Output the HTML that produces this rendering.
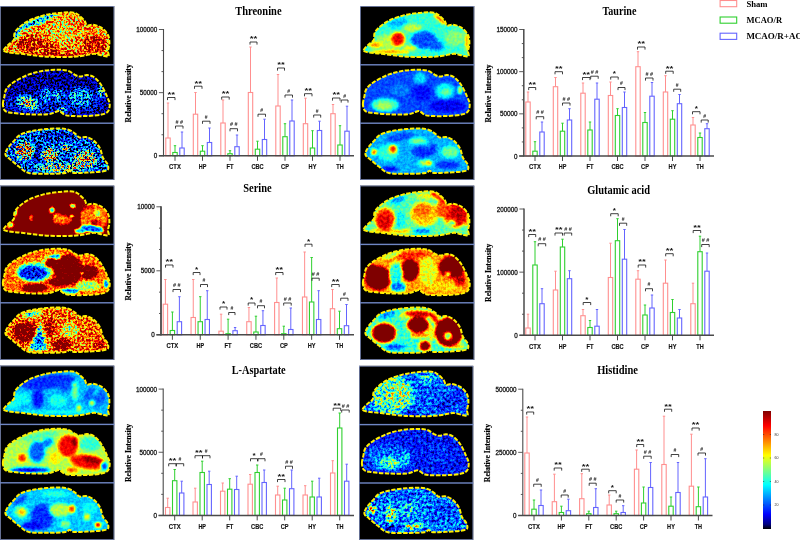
<!DOCTYPE html><html><head><meta charset="utf-8"><title>Figure</title><style>html,body{margin:0;padding:0;background:#fff}body{width:800px;height:540px;overflow:hidden;font-family:"Liberation Sans",sans-serif}svg{display:block;will-change:transform;transform:translateZ(0)}</style></head><body>
<svg width="800" height="540" viewBox="0 0 800 540">
<defs>
<path id="oA" d="M3.6 44.2C3.6 42.87 7 40.1 8.7 38.4C10.4 36.7 12.83 35.82 13.8 34C14.77 32.18 13.67 29.55 14.5 27.5C15.33 25.45 16.38 23.87 18.8 21.7C21.22 19.53 24.88 16.55 29 14.5C33.12 12.45 38.67 10.65 43.5 9.4C48.33 8.15 53.17 7.48 58 7C62.83 6.52 69 6.1 72.5 6.5C76 6.9 76.95 7.95 79 9.4C81.05 10.85 83.47 13.5 84.8 15.2C86.13 16.9 85.67 19 87 19.6C88.33 20.2 90.4 18.45 92.8 18.8C95.2 19.15 98.87 20 101.4 21.7C103.93 23.4 106.67 26.33 108 29C109.33 31.67 109.4 35.03 109.4 37.7C109.4 40.37 108.12 42.95 108 45C107.88 47.05 109.32 49.17 108.7 50C108.08 50.83 106.72 50.37 104.3 50C101.88 49.63 98.05 47.8 94.2 47.8C90.35 47.8 86.03 49.47 81.2 50C76.37 50.53 71.48 50.93 65.2 51C58.92 51.07 50.75 50.93 43.5 50.4C36.25 49.87 27.5 48.47 21.7 47.8C15.9 47.13 11.72 47 8.7 46.4C5.68 45.8 3.6 45.53 3.6 44.2Z"/>
<clipPath id="cA"><use href="#oA"/></clipPath>
<path id="oB" d="M2.9 39.1C2.78 36.8 3.7 34.43 4.3 31.9C4.9 29.37 4.8 26.43 6.5 23.9C8.2 21.37 10.75 19.12 14.5 16.7C18.25 14.28 24.17 11.22 29 9.4C33.83 7.58 38.67 6.57 43.5 5.8C48.33 5.03 53.9 4.8 58 4.8C62.1 4.8 65.2 4.92 68.1 5.8C71 6.68 73.35 9.13 75.4 10.1C77.45 11.07 78.47 11.6 80.4 11.6C82.33 11.6 84.7 9.98 87 10.1C89.3 10.22 91.8 10.6 94.2 12.3C96.6 14 99.23 17.03 101.4 20.3C103.57 23.57 105.82 28.77 107.2 31.9C108.58 35.03 109.57 36.68 109.7 39.1C109.83 41.52 109.38 44.65 108 46.4C106.62 48.15 104.9 48.83 101.4 49.6C97.9 50.37 91.82 50.77 87 51C82.18 51.23 76.13 51.17 72.5 51C68.87 50.83 67.38 50.82 65.2 50C63.02 49.18 61.1 46.58 59.4 46.1C57.7 45.62 56.93 46.57 55 47.1C53.07 47.63 52.13 48.93 47.8 49.3C43.47 49.67 35.03 49.55 29 49.3C22.97 49.05 15.6 48.4 11.6 47.8C7.6 47.2 6.45 47.15 5 45.7C3.55 44.25 3.02 41.4 2.9 39.1Z"/>
<clipPath id="cB"><use href="#oB"/></clipPath>
<path id="oC" d="M5.8 29C6.28 27.55 7.25 25.83 8.7 23.9C10.15 21.97 12.57 19.45 14.5 17.4C16.43 15.35 17.4 13.17 20.3 11.6C23.2 10.03 27.55 8.92 31.9 8C36.25 7.08 41.57 6.52 46.4 6.1C51.23 5.68 57.03 5.32 60.9 5.5C64.77 5.68 67.18 6.3 69.6 7.2C72.02 8.1 73.72 9.68 75.4 10.9C77.08 12.12 77.77 13.95 79.7 14.5C81.63 15.05 84.58 13.6 87 14.2C89.42 14.8 92.03 16.23 94.2 18.1C96.37 19.97 98.55 22.62 100 25.4C101.45 28.18 101.7 32.27 102.9 34.8C104.1 37.33 106.35 38.67 107.2 40.6C108.05 42.53 108.97 45.07 108 46.4C107.03 47.73 104.9 48.07 101.4 48.6C97.9 49.13 91.58 49.37 87 49.6C82.42 49.83 76.8 50.3 73.9 50C71 49.7 71.05 47.8 69.6 47.8C68.15 47.8 68.35 49.52 65.2 50C62.05 50.48 56.73 50.7 50.7 50.7C44.67 50.7 34.32 51.2 29 50C23.68 48.8 21.95 45.8 18.8 43.5C15.65 41.2 12.27 38.02 10.1 36.2C7.93 34.38 6.52 33.8 5.8 32.6C5.08 31.4 5.32 30.45 5.8 29Z"/>
<clipPath id="cC"><use href="#oC"/></clipPath>
<filter id="f0" filterUnits="userSpaceOnUse" x="0" y="0" width="114" height="58" color-interpolation-filters="sRGB">
<feGaussianBlur in="SourceGraphic" stdDeviation="1.5" result="b"/>
<feTurbulence type="fractalNoise" baseFrequency="0.45" numOctaves="2" seed="3" result="t"/>
<feColorMatrix in="t" type="matrix" values="2.6 0 0 0 -0.68 2.6 0 0 0 -0.68 2.6 0 0 0 -0.68 0 0 0 0 1" result="n"/>
<feComposite in="b" in2="n" operator="arithmetic" k1="0" k2="1" k3="0.5" k4="-0.25" result="m"/>
<feComponentTransfer><feFuncR type="table" tableValues="0 0 0 0 0 0 0 .25 .5 .75 1 1 1 1 1 .75 .5"/><feFuncG type="table" tableValues="0 0 0 .25 .5 .75 1 1 1 1 1 .75 .5 .25 0 0 0"/><feFuncB type="table" tableValues="0 .6 1 1 1 1 1 .75 .5 .25 0 0 0 0 0 0 0"/></feComponentTransfer>
<feGaussianBlur stdDeviation="0.6"/>
</filter>
<filter id="f1" filterUnits="userSpaceOnUse" x="0" y="0" width="114" height="58" color-interpolation-filters="sRGB">
<feGaussianBlur in="SourceGraphic" stdDeviation="2" result="b"/>
<feTurbulence type="fractalNoise" baseFrequency="0.47" numOctaves="2" seed="4" result="t"/>
<feColorMatrix in="t" type="matrix" values="3 0 0 0 -1 3 0 0 0 -1 3 0 0 0 -1 0 0 0 0 1" result="n"/>
<feComposite in="b" in2="n" operator="arithmetic" k1="1.6" k2="0.2" k3="0.1" k4="-0.05" result="m"/>
<feComponentTransfer><feFuncR type="table" tableValues="0 0 0 0 0 0 0 .25 .5 .75 1 1 1 1 1 .75 .5"/><feFuncG type="table" tableValues="0 0 0 .25 .5 .75 1 1 1 1 1 .75 .5 .25 0 0 0"/><feFuncB type="table" tableValues="0 .6 1 1 1 1 1 .75 .5 .25 0 0 0 0 0 0 0"/></feComponentTransfer>
<feGaussianBlur stdDeviation="0.75"/>
</filter>
<filter id="f2" filterUnits="userSpaceOnUse" x="0" y="0" width="114" height="58" color-interpolation-filters="sRGB">
<feGaussianBlur in="SourceGraphic" stdDeviation="1.8" result="b"/>
<feTurbulence type="fractalNoise" baseFrequency="0.47" numOctaves="2" seed="5" result="t"/>
<feColorMatrix in="t" type="matrix" values="3 0 0 0 -1 3 0 0 0 -1 3 0 0 0 -1 0 0 0 0 1" result="n"/>
<feComposite in="b" in2="n" operator="arithmetic" k1="1.5" k2="0.25" k3="0.18" k4="-0.09" result="m"/>
<feComponentTransfer><feFuncR type="table" tableValues="0 0 0 0 0 0 0 .25 .5 .75 1 1 1 1 1 .75 .5"/><feFuncG type="table" tableValues="0 0 0 .25 .5 .75 1 1 1 1 1 .75 .5 .25 0 0 0"/><feFuncB type="table" tableValues="0 .6 1 1 1 1 1 .75 .5 .25 0 0 0 0 0 0 0"/></feComponentTransfer>
<feGaussianBlur stdDeviation="0.75"/>
</filter>
<filter id="f3" filterUnits="userSpaceOnUse" x="0" y="0" width="114" height="58" color-interpolation-filters="sRGB">
<feGaussianBlur in="SourceGraphic" stdDeviation="0.9" result="b"/>
<feTurbulence type="fractalNoise" baseFrequency="0.37" numOctaves="3" seed="6" result="t"/>
<feColorMatrix in="t" type="matrix" values="2.2 0 0 0 -0.6 2.2 0 0 0 -0.6 2.2 0 0 0 -0.6 0 0 0 0 1" result="n"/>
<feComposite in="b" in2="n" operator="arithmetic" k1="0" k2="1" k3="0.2" k4="0.02" result="m"/>
<feComponentTransfer><feFuncR type="table" tableValues="0 0 0 0 0 0 0 .25 .5 .75 1 1 1 1 1 .75 .5"/><feFuncG type="table" tableValues="0 0 0 .25 .5 .75 1 1 1 1 1 .75 .5 .25 0 0 0"/><feFuncB type="table" tableValues="0 .6 1 1 1 1 1 .75 .5 .25 0 0 0 0 0 0 0"/></feComponentTransfer>
<feGaussianBlur stdDeviation="0.55"/>
</filter>
<filter id="f4" filterUnits="userSpaceOnUse" x="0" y="0" width="114" height="58" color-interpolation-filters="sRGB">
<feGaussianBlur in="SourceGraphic" stdDeviation="1.3" result="b"/>
<feTurbulence type="fractalNoise" baseFrequency="0.42" numOctaves="3" seed="7" result="t"/>
<feColorMatrix in="t" type="matrix" values="2.2 0 0 0 -0.6 2.2 0 0 0 -0.6 2.2 0 0 0 -0.6 0 0 0 0 1" result="n"/>
<feComposite in="b" in2="n" operator="arithmetic" k1="0" k2="1" k3="0.26" k4="-0.03" result="m"/>
<feComponentTransfer><feFuncR type="table" tableValues="0 0 0 0 0 0 0 .25 .5 .75 1 1 1 1 1 .75 .5"/><feFuncG type="table" tableValues="0 0 0 .25 .5 .75 1 1 1 1 1 .75 .5 .25 0 0 0"/><feFuncB type="table" tableValues="0 .6 1 1 1 1 1 .75 .5 .25 0 0 0 0 0 0 0"/></feComponentTransfer>
<feGaussianBlur stdDeviation="0.55"/>
</filter>
<filter id="f5" filterUnits="userSpaceOnUse" x="0" y="0" width="114" height="58" color-interpolation-filters="sRGB">
<feGaussianBlur in="SourceGraphic" stdDeviation="1.5" result="b"/>
<feTurbulence type="fractalNoise" baseFrequency="0.45" numOctaves="2" seed="8" result="t"/>
<feColorMatrix in="t" type="matrix" values="2.6 0 0 0 -0.65 2.6 0 0 0 -0.65 2.6 0 0 0 -0.65 0 0 0 0 1" result="n"/>
<feComposite in="b" in2="n" operator="arithmetic" k1="0" k2="1" k3="0.45" k4="-0.18" result="m"/>
<feComponentTransfer><feFuncR type="table" tableValues="0 0 0 0 0 0 0 .25 .5 .75 1 1 1 1 1 .75 .5"/><feFuncG type="table" tableValues="0 0 0 .25 .5 .75 1 1 1 1 1 .75 .5 .25 0 0 0"/><feFuncB type="table" tableValues="0 .6 1 1 1 1 1 .75 .5 .25 0 0 0 0 0 0 0"/></feComponentTransfer>
<feGaussianBlur stdDeviation="0.6"/>
</filter>
<filter id="f6" filterUnits="userSpaceOnUse" x="0" y="0" width="114" height="58" color-interpolation-filters="sRGB">
<feGaussianBlur in="SourceGraphic" stdDeviation="1.6" result="b"/>
<feTurbulence type="fractalNoise" baseFrequency="0.37" numOctaves="3" seed="9" result="t"/>
<feColorMatrix in="t" type="matrix" values="2.2 0 0 0 -0.6 2.2 0 0 0 -0.6 2.2 0 0 0 -0.6 0 0 0 0 1" result="n"/>
<feComposite in="b" in2="n" operator="arithmetic" k1="0" k2="1" k3="0.08" k4="-0.04" result="m"/>
<feComponentTransfer><feFuncR type="table" tableValues="0 0 0 0 0 0 0 .25 .5 .75 1 1 1 1 1 .75 .5"/><feFuncG type="table" tableValues="0 0 0 .25 .5 .75 1 1 1 1 1 .75 .5 .25 0 0 0"/><feFuncB type="table" tableValues="0 .6 1 1 1 1 1 .75 .5 .25 0 0 0 0 0 0 0"/></feComponentTransfer>
<feGaussianBlur stdDeviation="0.55"/>
</filter>
<filter id="f7" filterUnits="userSpaceOnUse" x="0" y="0" width="114" height="58" color-interpolation-filters="sRGB">
<feGaussianBlur in="SourceGraphic" stdDeviation="1.5" result="b"/>
<feTurbulence type="fractalNoise" baseFrequency="0.37" numOctaves="3" seed="10" result="t"/>
<feColorMatrix in="t" type="matrix" values="2.2 0 0 0 -0.6 2.2 0 0 0 -0.6 2.2 0 0 0 -0.6 0 0 0 0 1" result="n"/>
<feComposite in="b" in2="n" operator="arithmetic" k1="0" k2="1" k3="0.08" k4="-0.04" result="m"/>
<feComponentTransfer><feFuncR type="table" tableValues="0 0 0 0 0 0 0 .25 .5 .75 1 1 1 1 1 .75 .5"/><feFuncG type="table" tableValues="0 0 0 .25 .5 .75 1 1 1 1 1 .75 .5 .25 0 0 0"/><feFuncB type="table" tableValues="0 .6 1 1 1 1 1 .75 .5 .25 0 0 0 0 0 0 0"/></feComponentTransfer>
<feGaussianBlur stdDeviation="0.55"/>
</filter>
<filter id="f8" filterUnits="userSpaceOnUse" x="0" y="0" width="114" height="58" color-interpolation-filters="sRGB">
<feGaussianBlur in="SourceGraphic" stdDeviation="1.5" result="b"/>
<feTurbulence type="fractalNoise" baseFrequency="0.37" numOctaves="3" seed="11" result="t"/>
<feColorMatrix in="t" type="matrix" values="2.2 0 0 0 -0.6 2.2 0 0 0 -0.6 2.2 0 0 0 -0.6 0 0 0 0 1" result="n"/>
<feComposite in="b" in2="n" operator="arithmetic" k1="0" k2="1" k3="0.08" k4="-0.04" result="m"/>
<feComponentTransfer><feFuncR type="table" tableValues="0 0 0 0 0 0 0 .25 .5 .75 1 1 1 1 1 .75 .5"/><feFuncG type="table" tableValues="0 0 0 .25 .5 .75 1 1 1 1 1 .75 .5 .25 0 0 0"/><feFuncB type="table" tableValues="0 .6 1 1 1 1 1 .75 .5 .25 0 0 0 0 0 0 0"/></feComponentTransfer>
<feGaussianBlur stdDeviation="0.55"/>
</filter>
<filter id="f9" filterUnits="userSpaceOnUse" x="0" y="0" width="114" height="58" color-interpolation-filters="sRGB">
<feGaussianBlur in="SourceGraphic" stdDeviation="1.5" result="b"/>
<feTurbulence type="fractalNoise" baseFrequency="0.37" numOctaves="3" seed="12" result="t"/>
<feColorMatrix in="t" type="matrix" values="2.2 0 0 0 -0.6 2.2 0 0 0 -0.6 2.2 0 0 0 -0.6 0 0 0 0 1" result="n"/>
<feComposite in="b" in2="n" operator="arithmetic" k1="0" k2="1" k3="0.08" k4="-0.04" result="m"/>
<feComponentTransfer><feFuncR type="table" tableValues="0 0 0 0 0 0 0 .25 .5 .75 1 1 1 1 1 .75 .5"/><feFuncG type="table" tableValues="0 0 0 .25 .5 .75 1 1 1 1 1 .75 .5 .25 0 0 0"/><feFuncB type="table" tableValues="0 .6 1 1 1 1 1 .75 .5 .25 0 0 0 0 0 0 0"/></feComponentTransfer>
<feGaussianBlur stdDeviation="0.55"/>
</filter>
<filter id="f10" filterUnits="userSpaceOnUse" x="0" y="0" width="114" height="58" color-interpolation-filters="sRGB">
<feGaussianBlur in="SourceGraphic" stdDeviation="1.6" result="b"/>
<feTurbulence type="fractalNoise" baseFrequency="0.37" numOctaves="3" seed="13" result="t"/>
<feColorMatrix in="t" type="matrix" values="2.2 0 0 0 -0.6 2.2 0 0 0 -0.6 2.2 0 0 0 -0.6 0 0 0 0 1" result="n"/>
<feComposite in="b" in2="n" operator="arithmetic" k1="0" k2="1" k3="0.07" k4="-0.04" result="m"/>
<feComponentTransfer><feFuncR type="table" tableValues="0 0 0 0 0 0 0 .25 .5 .75 1 1 1 1 1 .75 .5"/><feFuncG type="table" tableValues="0 0 0 .25 .5 .75 1 1 1 1 1 .75 .5 .25 0 0 0"/><feFuncB type="table" tableValues="0 .6 1 1 1 1 1 .75 .5 .25 0 0 0 0 0 0 0"/></feComponentTransfer>
<feGaussianBlur stdDeviation="0.55"/>
</filter>
<filter id="f11" filterUnits="userSpaceOnUse" x="0" y="0" width="114" height="58" color-interpolation-filters="sRGB">
<feGaussianBlur in="SourceGraphic" stdDeviation="1.5" result="b"/>
<feTurbulence type="fractalNoise" baseFrequency="0.37" numOctaves="3" seed="14" result="t"/>
<feColorMatrix in="t" type="matrix" values="2.2 0 0 0 -0.6 2.2 0 0 0 -0.6 2.2 0 0 0 -0.6 0 0 0 0 1" result="n"/>
<feComposite in="b" in2="n" operator="arithmetic" k1="0" k2="1" k3="0.08" k4="-0.04" result="m"/>
<feComponentTransfer><feFuncR type="table" tableValues="0 0 0 0 0 0 0 .25 .5 .75 1 1 1 1 1 .75 .5"/><feFuncG type="table" tableValues="0 0 0 .25 .5 .75 1 1 1 1 1 .75 .5 .25 0 0 0"/><feFuncB type="table" tableValues="0 .6 1 1 1 1 1 .75 .5 .25 0 0 0 0 0 0 0"/></feComponentTransfer>
<feGaussianBlur stdDeviation="0.55"/>
</filter>
<filter id="f12" filterUnits="userSpaceOnUse" x="0" y="0" width="114" height="58" color-interpolation-filters="sRGB">
<feGaussianBlur in="SourceGraphic" stdDeviation="1.5" result="b"/>
<feTurbulence type="fractalNoise" baseFrequency="0.37" numOctaves="3" seed="15" result="t"/>
<feColorMatrix in="t" type="matrix" values="2.2 0 0 0 -0.6 2.2 0 0 0 -0.6 2.2 0 0 0 -0.6 0 0 0 0 1" result="n"/>
<feComposite in="b" in2="n" operator="arithmetic" k1="0" k2="1" k3="0.12" k4="-0.06" result="m"/>
<feComponentTransfer><feFuncR type="table" tableValues="0 0 0 0 0 0 0 .25 .5 .75 1 1 1 1 1 .75 .5"/><feFuncG type="table" tableValues="0 0 0 .25 .5 .75 1 1 1 1 1 .75 .5 .25 0 0 0"/><feFuncB type="table" tableValues="0 .6 1 1 1 1 1 .75 .5 .25 0 0 0 0 0 0 0"/></feComponentTransfer>
<feGaussianBlur stdDeviation="0.55"/>
</filter>
<filter id="f13" filterUnits="userSpaceOnUse" x="0" y="0" width="114" height="58" color-interpolation-filters="sRGB">
<feGaussianBlur in="SourceGraphic" stdDeviation="1.4" result="b"/>
<feTurbulence type="fractalNoise" baseFrequency="0.37" numOctaves="3" seed="16" result="t"/>
<feColorMatrix in="t" type="matrix" values="2.2 0 0 0 -0.6 2.2 0 0 0 -0.6 2.2 0 0 0 -0.6 0 0 0 0 1" result="n"/>
<feComposite in="b" in2="n" operator="arithmetic" k1="0" k2="1" k3="0.14" k4="0.01" result="m"/>
<feComponentTransfer><feFuncR type="table" tableValues="0 0 0 0 0 0 0 .25 .5 .75 1 1 1 1 1 .75 .5"/><feFuncG type="table" tableValues="0 0 0 .25 .5 .75 1 1 1 1 1 .75 .5 .25 0 0 0"/><feFuncB type="table" tableValues="0 .6 1 1 1 1 1 .75 .5 .25 0 0 0 0 0 0 0"/></feComponentTransfer>
<feGaussianBlur stdDeviation="0.55"/>
</filter>
<filter id="f14" filterUnits="userSpaceOnUse" x="0" y="0" width="114" height="58" color-interpolation-filters="sRGB">
<feGaussianBlur in="SourceGraphic" stdDeviation="1.4" result="b"/>
<feTurbulence type="fractalNoise" baseFrequency="0.37" numOctaves="3" seed="17" result="t"/>
<feColorMatrix in="t" type="matrix" values="2.2 0 0 0 -0.6 2.2 0 0 0 -0.6 2.2 0 0 0 -0.6 0 0 0 0 1" result="n"/>
<feComposite in="b" in2="n" operator="arithmetic" k1="0" k2="1" k3="0.14" k4="0.01" result="m"/>
<feComponentTransfer><feFuncR type="table" tableValues="0 0 0 0 0 0 0 .25 .5 .75 1 1 1 1 1 .75 .5"/><feFuncG type="table" tableValues="0 0 0 .25 .5 .75 1 1 1 1 1 .75 .5 .25 0 0 0"/><feFuncB type="table" tableValues="0 .6 1 1 1 1 1 .75 .5 .25 0 0 0 0 0 0 0"/></feComponentTransfer>
<feGaussianBlur stdDeviation="0.55"/>
</filter>
<filter id="f15" filterUnits="userSpaceOnUse" x="0" y="0" width="114" height="58" color-interpolation-filters="sRGB">
<feGaussianBlur in="SourceGraphic" stdDeviation="2" result="b"/>
<feTurbulence type="fractalNoise" baseFrequency="0.37" numOctaves="3" seed="18" result="t"/>
<feColorMatrix in="t" type="matrix" values="2.2 0 0 0 -0.6 2.2 0 0 0 -0.6 2.2 0 0 0 -0.6 0 0 0 0 1" result="n"/>
<feComposite in="b" in2="n" operator="arithmetic" k1="0.8" k2="0.6" k3="0.12" k4="-0.06" result="m"/>
<feComponentTransfer><feFuncR type="table" tableValues="0 0 0 0 0 0 0 .25 .5 .75 1 1 1 1 1 .75 .5"/><feFuncG type="table" tableValues="0 0 0 .25 .5 .75 1 1 1 1 1 .75 .5 .25 0 0 0"/><feFuncB type="table" tableValues="0 .6 1 1 1 1 1 .75 .5 .25 0 0 0 0 0 0 0"/></feComponentTransfer>
<feGaussianBlur stdDeviation="0.55"/>
</filter>
<filter id="f16" filterUnits="userSpaceOnUse" x="0" y="0" width="114" height="58" color-interpolation-filters="sRGB">
<feGaussianBlur in="SourceGraphic" stdDeviation="2" result="b"/>
<feTurbulence type="fractalNoise" baseFrequency="0.37" numOctaves="3" seed="19" result="t"/>
<feColorMatrix in="t" type="matrix" values="2.2 0 0 0 -0.6 2.2 0 0 0 -0.6 2.2 0 0 0 -0.6 0 0 0 0 1" result="n"/>
<feComposite in="b" in2="n" operator="arithmetic" k1="0.9" k2="0.55" k3="0.08" k4="-0.04" result="m"/>
<feComponentTransfer><feFuncR type="table" tableValues="0 0 0 0 0 0 0 .25 .5 .75 1 1 1 1 1 .75 .5"/><feFuncG type="table" tableValues="0 0 0 .25 .5 .75 1 1 1 1 1 .75 .5 .25 0 0 0"/><feFuncB type="table" tableValues="0 .6 1 1 1 1 1 .75 .5 .25 0 0 0 0 0 0 0"/></feComponentTransfer>
<feGaussianBlur stdDeviation="0.55"/>
</filter>
<filter id="f17" filterUnits="userSpaceOnUse" x="0" y="0" width="114" height="58" color-interpolation-filters="sRGB">
<feGaussianBlur in="SourceGraphic" stdDeviation="1.8" result="b"/>
<feTurbulence type="fractalNoise" baseFrequency="0.37" numOctaves="3" seed="20" result="t"/>
<feColorMatrix in="t" type="matrix" values="2.2 0 0 0 -0.6 2.2 0 0 0 -0.6 2.2 0 0 0 -0.6 0 0 0 0 1" result="n"/>
<feComposite in="b" in2="n" operator="arithmetic" k1="1" k2="0.5" k3="0.12" k4="-0.06" result="m"/>
<feComponentTransfer><feFuncR type="table" tableValues="0 0 0 0 0 0 0 .25 .5 .75 1 1 1 1 1 .75 .5"/><feFuncG type="table" tableValues="0 0 0 .25 .5 .75 1 1 1 1 1 .75 .5 .25 0 0 0"/><feFuncB type="table" tableValues="0 .6 1 1 1 1 1 .75 .5 .25 0 0 0 0 0 0 0"/></feComponentTransfer>
<feGaussianBlur stdDeviation="0.55"/>
</filter>
<linearGradient id="cb" x1="0" y1="1" x2="0" y2="0"><stop offset="0" stop-color="#000"/><stop offset=".04" stop-color="#000080"/><stop offset=".125" stop-color="#00f"/><stop offset=".375" stop-color="#0ff"/><stop offset=".5" stop-color="#80ff80"/><stop offset=".625" stop-color="#ff0"/><stop offset=".875" stop-color="#f00"/><stop offset="1" stop-color="#800000"/></linearGradient>
</defs>
<rect x="0" y="6" width="114.3" height="174" fill="#000"/>
<rect x="0.4" y="6.4" width="113.5" height="173.2" fill="none" stroke="#8f9fd2" stroke-width="0.7"/>
<rect x="0" y="64.1" width="114.3" height="1.4" fill="#6f86c4"/>
<rect x="0" y="122.5" width="114.3" height="1.4" fill="#6f86c4"/>
<rect x="0" y="185.6" width="114.3" height="174.4" fill="#000"/>
<rect x="0.4" y="186" width="113.5" height="173.6" fill="none" stroke="#8f9fd2" stroke-width="0.7"/>
<rect x="0" y="243.7" width="114.3" height="1.4" fill="#6f86c4"/>
<rect x="0" y="302.1" width="114.3" height="1.4" fill="#6f86c4"/>
<rect x="0" y="365.6" width="114.3" height="174.4" fill="#000"/>
<rect x="0.4" y="366" width="113.5" height="173.6" fill="none" stroke="#8f9fd2" stroke-width="0.7"/>
<rect x="0" y="423.7" width="114.3" height="1.4" fill="#6f86c4"/>
<rect x="0" y="482.1" width="114.3" height="1.4" fill="#6f86c4"/>
<rect x="360" y="6" width="114.3" height="174" fill="#000"/>
<rect x="360.4" y="6.4" width="113.5" height="173.2" fill="none" stroke="#8f9fd2" stroke-width="0.7"/>
<rect x="360" y="64.1" width="114.3" height="1.4" fill="#6f86c4"/>
<rect x="360" y="122.5" width="114.3" height="1.4" fill="#6f86c4"/>
<rect x="360" y="185.6" width="114.3" height="174.4" fill="#000"/>
<rect x="360.4" y="186" width="113.5" height="173.6" fill="none" stroke="#8f9fd2" stroke-width="0.7"/>
<rect x="360" y="243.7" width="114.3" height="1.4" fill="#6f86c4"/>
<rect x="360" y="302.1" width="114.3" height="1.4" fill="#6f86c4"/>
<rect x="359" y="365.8" width="114.3" height="174.2" fill="#000"/>
<rect x="359.4" y="366.2" width="113.5" height="173.4" fill="none" stroke="#8f9fd2" stroke-width="0.7"/>
<rect x="359" y="423.9" width="114.3" height="1.4" fill="#6f86c4"/>
<rect x="359" y="482.3" width="114.3" height="1.4" fill="#6f86c4"/>
<g transform="translate(0 6)">
<g clip-path="url(#cA)"><g filter="url(#f0)">
<rect x="0" y="0" width="114" height="58" fill="#adadad"/>
<ellipse cx="35" cy="16" rx="22" ry="3" fill="#333333" transform="rotate(-22 35 16)"/>
<ellipse cx="17" cy="27" rx="3" ry="7" fill="#333333" transform="rotate(25 17 27)"/>
<ellipse cx="62" cy="25" rx="12" ry="14" fill="#999999"/>
<ellipse cx="30" cy="38" rx="14" ry="8" fill="#d9d9d9"/>
<ellipse cx="50" cy="42" rx="8" ry="6" fill="#d9d9d9"/>
<ellipse cx="95" cy="38" rx="12" ry="9" fill="#d9d9d9"/>
<ellipse cx="60" cy="49" rx="40" ry="2" fill="#ebebeb"/>
</g></g>
<use href="#oA" fill="none" stroke="#fff000" stroke-width="2" stroke-dasharray="4.4 1.5"/>
</g>
<g transform="translate(0 65)">
<g clip-path="url(#cB)"><g filter="url(#f1)">
<rect x="0" y="0" width="114" height="58" fill="#0f0f0f"/>
<ellipse cx="55" cy="38" rx="50" ry="12" fill="#1c1c1c"/>
<ellipse cx="28" cy="38" rx="11" ry="6" fill="#666666" transform="rotate(20 28 38)"/>
<ellipse cx="27" cy="38" rx="5" ry="3" fill="#a8a8a8" transform="rotate(20 27 38)"/>
<ellipse cx="46" cy="30" rx="4" ry="7" fill="#4c4c4c"/>
<ellipse cx="58" cy="30" rx="5" ry="5" fill="#4c4c4c"/>
<ellipse cx="80" cy="32" rx="13" ry="9" fill="#404040"/>
<ellipse cx="101" cy="27" rx="2" ry="5" fill="#8c8c8c"/>
<ellipse cx="62" cy="45" rx="3" ry="2" fill="#999999"/>
</g></g>
<use href="#oB" fill="none" stroke="#fff000" stroke-width="2" stroke-dasharray="4.4 1.5"/>
</g>
<g transform="translate(0 123)">
<g clip-path="url(#cC)"><g filter="url(#f2)">
<rect x="0" y="0" width="114" height="58" fill="#2b2b2b"/>
<ellipse cx="25" cy="28" rx="9" ry="9" fill="#999999"/>
<ellipse cx="38" cy="30" rx="3" ry="12" fill="#0f0f0f"/>
<ellipse cx="50" cy="32" rx="8" ry="7" fill="#949494"/>
<ellipse cx="85" cy="36" rx="11" ry="9" fill="#808080"/>
<ellipse cx="60" cy="13" rx="20" ry="5" fill="#1f1f1f"/>
<ellipse cx="60" cy="45" rx="25" ry="4" fill="#737373"/>
<ellipse cx="66" cy="25" rx="4" ry="4" fill="#737373"/>
</g></g>
<use href="#oC" fill="none" stroke="#fff000" stroke-width="2" stroke-dasharray="4.4 1.5"/>
</g>
<g transform="translate(0 185)">
<g clip-path="url(#cA)"><g filter="url(#f3)">
<rect x="0" y="0" width="114" height="58" fill="#ffffff"/>
<ellipse cx="94" cy="33" rx="14" ry="14" fill="#a3a3a3"/>
<ellipse cx="92" cy="44" rx="12" ry="3.5" fill="#141414" transform="rotate(8 92 44)"/>
<ellipse cx="80" cy="46" rx="6" ry="2.5" fill="#2e2e2e"/>
<ellipse cx="98" cy="28" rx="3" ry="3" fill="#616161"/>
<ellipse cx="96" cy="38" rx="5" ry="3" fill="#d4d4d4"/>
<ellipse cx="62" cy="35" rx="10" ry="5" fill="#a8a8a8"/>
<ellipse cx="57" cy="31" rx="4" ry="3" fill="#999999"/>
<ellipse cx="52" cy="25" rx="3" ry="3" fill="#474747"/>
<ellipse cx="73" cy="21" rx="3" ry="2" fill="#474747"/>
<ellipse cx="72" cy="31" rx="2" ry="1.5" fill="#474747"/>
<ellipse cx="31" cy="33" rx="1.5" ry="3" fill="#7a7a7a"/>
<ellipse cx="10" cy="40" rx="4" ry="3" fill="#6e6e6e"/>
<ellipse cx="15" cy="27" rx="2" ry="5" fill="#474747"/>
<ellipse cx="88" cy="22" rx="6" ry="3" fill="#c7c7c7"/>
</g></g>
<use href="#oA" fill="none" stroke="#fff000" stroke-width="2" stroke-dasharray="4.4 1.5"/>
</g>
<g transform="translate(0 244)">
<g clip-path="url(#cB)"><g filter="url(#f4)">
<rect x="0" y="0" width="114" height="58" fill="#ababab"/>
<ellipse cx="34" cy="28" rx="18" ry="10" fill="#595959"/>
<ellipse cx="33" cy="29" rx="14" ry="7" fill="#0a0a0a"/>
<ellipse cx="52" cy="15" rx="10" ry="4" fill="#474747" transform="rotate(-20 52 15)"/>
<ellipse cx="55" cy="13" rx="5" ry="2" fill="#1a1a1a" transform="rotate(-15 55 13)"/>
<ellipse cx="68" cy="26" rx="14" ry="15" fill="#ffffff"/>
<ellipse cx="52" cy="19" rx="7" ry="5" fill="#ffffff"/>
<ellipse cx="88" cy="28" rx="10" ry="7" fill="#ffffff"/>
<ellipse cx="60" cy="38" rx="12" ry="4" fill="#ffffff"/>
<ellipse cx="35" cy="44" rx="13" ry="4" fill="#ffffff"/>
<ellipse cx="88" cy="42" rx="12" ry="5" fill="#6b6b6b"/>
<ellipse cx="70" cy="47" rx="9" ry="2.5" fill="#1f1f1f"/>
<ellipse cx="106" cy="40" rx="2" ry="4" fill="#0d0d0d"/>
<ellipse cx="82" cy="29" rx="1.5" ry="1.5" fill="#4d4d4d"/>
</g></g>
<use href="#oB" fill="none" stroke="#fff000" stroke-width="2" stroke-dasharray="4.4 1.5"/>
</g>
<g transform="translate(0 302)">
<g clip-path="url(#cC)"><g filter="url(#f5)">
<rect x="0" y="0" width="114" height="58" fill="#adadad"/>
<ellipse cx="25" cy="30" rx="12" ry="10" fill="#ffffff"/>
<polygon points="40,20 48,48 28,49" fill="#474747"/>
<polygon points="40,26 44,45 33,46" fill="#1c1c1c"/>
<ellipse cx="70" cy="28" rx="9" ry="7" fill="#7a7a7a"/>
<ellipse cx="32" cy="12" rx="10" ry="3" fill="#4f4f4f" transform="rotate(-10 32 12)"/>
<ellipse cx="62" cy="43" rx="9" ry="5" fill="#ffffff"/>
<ellipse cx="50" cy="25" rx="4" ry="8" fill="#e8e8e8"/>
<ellipse cx="100" cy="42" rx="5" ry="4" fill="#dbdbdb"/>
</g></g>
<use href="#oC" fill="none" stroke="#fff000" stroke-width="2" stroke-dasharray="4.4 1.5"/>
</g>
<g transform="translate(0 365)">
<g clip-path="url(#cA)"><g filter="url(#f6)">
<rect x="0" y="0" width="114" height="58" fill="#4f4f4f"/>
<ellipse cx="48" cy="17" rx="27" ry="7" fill="#2b2b2b" transform="rotate(-8 48 17)"/>
<ellipse cx="38" cy="34" rx="6" ry="10" fill="#262626"/>
<ellipse cx="65" cy="22" rx="7" ry="5" fill="#333333"/>
<ellipse cx="22" cy="34" rx="9" ry="6" fill="#616161"/>
<ellipse cx="58" cy="36" rx="9" ry="6" fill="#666666"/>
<ellipse cx="75" cy="26" rx="3" ry="10" fill="#808080"/>
<ellipse cx="95" cy="32" rx="11" ry="10" fill="#383838"/>
<ellipse cx="92" cy="38" rx="2.5" ry="2.5" fill="#b8b8b8"/>
<ellipse cx="79" cy="43" rx="2" ry="3" fill="#b8b8b8"/>
<ellipse cx="97" cy="26" rx="1.5" ry="6" fill="#666666" transform="rotate(30 97 26)"/>
<ellipse cx="60" cy="47" rx="40" ry="1.5" fill="#6b6b6b"/>
<ellipse cx="12" cy="40" rx="6" ry="3" fill="#6b6b6b"/>
</g></g>
<use href="#oA" fill="none" stroke="#fff000" stroke-width="2" stroke-dasharray="4.4 1.5"/>
</g>
<g transform="translate(0 424)">
<g clip-path="url(#cB)"><g filter="url(#f7)">
<rect x="0" y="0" width="114" height="58" fill="#8c8c8c"/>
<ellipse cx="37" cy="28" rx="8" ry="11" fill="#383838"/>
<ellipse cx="47" cy="19" rx="7" ry="4" fill="#3d3d3d" transform="rotate(-25 47 19)"/>
<ellipse cx="68" cy="22" rx="10" ry="11" fill="#e0e0e0"/>
<ellipse cx="75" cy="18" rx="3" ry="5" fill="#ffffff"/>
<ellipse cx="88" cy="38" rx="18" ry="7" fill="#e0e0e0" transform="rotate(8 88 38)"/>
<ellipse cx="92" cy="36" rx="9" ry="3" fill="#ffffff" transform="rotate(12 92 36)"/>
<ellipse cx="22" cy="34" rx="4" ry="4" fill="#d9d9d9"/>
<ellipse cx="90" cy="20" rx="11" ry="7" fill="#6b6b6b"/>
<ellipse cx="30" cy="46" rx="20" ry="2.5" fill="#141414"/>
<ellipse cx="55" cy="34" rx="6" ry="6" fill="#a3a3a3"/>
<ellipse cx="72" cy="46" rx="6" ry="2" fill="#d9d9d9"/>
<ellipse cx="40" cy="12" rx="20" ry="3" fill="#707070" transform="rotate(-10 40 12)"/>
<ellipse cx="104" cy="42" rx="3" ry="4" fill="#262626"/>
</g></g>
<use href="#oB" fill="none" stroke="#fff000" stroke-width="2" stroke-dasharray="4.4 1.5"/>
</g>
<g transform="translate(0 482)">
<g clip-path="url(#cC)"><g filter="url(#f8)">
<rect x="0" y="0" width="114" height="58" fill="#525252"/>
<ellipse cx="42" cy="35" rx="11" ry="13" fill="#2b2b2b"/>
<ellipse cx="32" cy="44" rx="10" ry="4" fill="#1f1f1f"/>
<ellipse cx="60" cy="28" rx="11" ry="7" fill="#8c8c8c"/>
<ellipse cx="72" cy="27" rx="3" ry="4" fill="#d9d9d9"/>
<ellipse cx="21" cy="30" rx="7" ry="6" fill="#808080"/>
<ellipse cx="22" cy="30" rx="3" ry="3" fill="#b8b8b8"/>
<ellipse cx="98" cy="43" rx="3" ry="2.5" fill="#ffffff"/>
<ellipse cx="87" cy="35" rx="3" ry="3" fill="#b2b2b2"/>
<ellipse cx="55" cy="12" rx="14" ry="3" fill="#6b6b6b"/>
<ellipse cx="90" cy="26" rx="8" ry="6" fill="#616161"/>
<ellipse cx="65" cy="42" rx="5" ry="4" fill="#808080"/>
<ellipse cx="20" cy="18" rx="8" ry="3" fill="#333333" transform="rotate(-35 20 18)"/>
</g></g>
<use href="#oC" fill="none" stroke="#fff000" stroke-width="2" stroke-dasharray="4.4 1.5"/>
</g>
<g transform="translate(360 6)">
<g clip-path="url(#cA)"><g filter="url(#f9)">
<rect x="0" y="0" width="114" height="58" fill="#6b6b6b"/>
<ellipse cx="30" cy="36" rx="14" ry="8" fill="#8c8c8c"/>
<ellipse cx="38" cy="33" rx="7" ry="7" fill="#dbdbdb"/>
<ellipse cx="38" cy="33" rx="4" ry="4" fill="#e6e6e6"/>
<ellipse cx="64" cy="34" rx="13" ry="9" fill="#333333"/>
<ellipse cx="76" cy="40" rx="8" ry="5" fill="#383838"/>
<ellipse cx="52" cy="22" rx="10" ry="4" fill="#8f8f8f"/>
<ellipse cx="38" cy="17" rx="10" ry="4" fill="#4c4c4c" transform="rotate(-15 38 17)"/>
<ellipse cx="15" cy="39" rx="6" ry="3" fill="#bfbfbf"/>
<ellipse cx="80" cy="13" rx="8" ry="1.5" fill="#e6e6e6" transform="rotate(40 80 13)"/>
<ellipse cx="95" cy="32" rx="10" ry="8" fill="#808080"/>
<ellipse cx="30" cy="46" rx="20" ry="1.5" fill="#d9d9d9"/>
<ellipse cx="107" cy="36" rx="1.5" ry="10" fill="#cccccc"/>
<ellipse cx="50" cy="42" rx="8" ry="3" fill="#999999"/>
</g></g>
<use href="#oA" fill="none" stroke="#fff000" stroke-width="2" stroke-dasharray="4.4 1.5"/>
</g>
<g transform="translate(360 65)">
<g clip-path="url(#cB)"><g filter="url(#f10)">
<rect x="0" y="0" width="114" height="58" fill="#333333"/>
<ellipse cx="25" cy="40" rx="14" ry="7" fill="#707070"/>
<ellipse cx="24" cy="41" rx="8" ry="4" fill="#8c8c8c"/>
<ellipse cx="60" cy="13" rx="7" ry="6" fill="#595959"/>
<ellipse cx="85" cy="26" rx="10" ry="8" fill="#616161"/>
<ellipse cx="86" cy="27" rx="4" ry="3" fill="#808080"/>
<ellipse cx="88" cy="41" rx="18" ry="6" fill="#1f1f1f"/>
<ellipse cx="62" cy="28" rx="10" ry="8" fill="#242424"/>
<ellipse cx="100" cy="25" rx="1.5" ry="4" fill="#cccccc"/>
<ellipse cx="40" cy="25" rx="10" ry="6" fill="#404040"/>
</g></g>
<use href="#oB" fill="none" stroke="#fff000" stroke-width="2" stroke-dasharray="4.4 1.5"/>
</g>
<g transform="translate(360 123)">
<g clip-path="url(#cC)"><g filter="url(#f11)">
<rect x="0" y="0" width="114" height="58" fill="#4c4c4c"/>
<ellipse cx="28" cy="30" rx="10" ry="8" fill="#6b6b6b"/>
<ellipse cx="62" cy="29" rx="10" ry="6" fill="#2b2b2b"/>
<ellipse cx="73" cy="26" rx="3" ry="6" fill="#2b2b2b"/>
<ellipse cx="33" cy="26" rx="4.5" ry="4.5" fill="#b2b2b2"/>
<ellipse cx="33" cy="26" rx="3" ry="3" fill="#d9d9d9"/>
<ellipse cx="14" cy="29" rx="2.5" ry="3" fill="#d9d9d9"/>
<ellipse cx="58" cy="18" rx="9" ry="3" fill="#808080"/>
<ellipse cx="65" cy="40" rx="7" ry="3" fill="#8c8c8c"/>
<ellipse cx="69" cy="40" rx="2.5" ry="2.5" fill="#cccccc"/>
<ellipse cx="90" cy="29" rx="9" ry="6" fill="#7a7a7a"/>
<ellipse cx="88" cy="42" rx="12" ry="4" fill="#2b2b2b"/>
<ellipse cx="40" cy="14" rx="14" ry="4" fill="#333333" transform="rotate(-10 40 14)"/>
<ellipse cx="30" cy="46" rx="8" ry="2.5" fill="#1a1a1a"/>
</g></g>
<use href="#oC" fill="none" stroke="#fff000" stroke-width="2" stroke-dasharray="4.4 1.5"/>
</g>
<g transform="translate(360 185)">
<g clip-path="url(#cA)"><g filter="url(#f12)">
<rect x="0" y="0" width="114" height="58" fill="#757575"/>
<ellipse cx="25" cy="34" rx="10" ry="11" fill="#d6d6d6"/>
<ellipse cx="24" cy="37" rx="8" ry="7" fill="#e6e6e6"/>
<ellipse cx="40" cy="35" rx="5" ry="10" fill="#616161"/>
<ellipse cx="64" cy="29" rx="14" ry="12" fill="#adadad"/>
<ellipse cx="62" cy="25" rx="8" ry="7" fill="#c4c4c4"/>
<ellipse cx="66" cy="11" rx="12" ry="2.5" fill="#a3a3a3"/>
<ellipse cx="95" cy="30" rx="11" ry="13" fill="#dbdbdb"/>
<ellipse cx="98" cy="30" rx="7" ry="10" fill="#ededed"/>
<ellipse cx="82" cy="24" rx="6" ry="9" fill="#cccccc"/>
<ellipse cx="78" cy="12" rx="9" ry="2" fill="#ebebeb" transform="rotate(35 78 12)"/>
<ellipse cx="28" cy="46" rx="18" ry="1.2" fill="#e0e0e0" transform="rotate(3 28 46)"/>
<ellipse cx="62" cy="46" rx="9" ry="2" fill="#333333"/>
<ellipse cx="38" cy="15" rx="8" ry="3" fill="#424242" transform="rotate(-15 38 15)"/>
<ellipse cx="92" cy="38" rx="4" ry="3" fill="#737373"/>
<ellipse cx="106" cy="32" rx="1.5" ry="10" fill="#f2f2f2"/>
<ellipse cx="47" cy="46" rx="3" ry="1.5" fill="#d9d9d9"/>
</g></g>
<use href="#oA" fill="none" stroke="#fff000" stroke-width="2" stroke-dasharray="4.4 1.5"/>
</g>
<g transform="translate(360 244)">
<g clip-path="url(#cB)"><g filter="url(#f13)">
<rect x="0" y="0" width="114" height="58" fill="#a3a3a3"/>
<ellipse cx="18" cy="34" rx="13" ry="12" fill="#ffffff"/>
<ellipse cx="12" cy="28" rx="6" ry="8" fill="#ffffff"/>
<ellipse cx="50" cy="26" rx="9" ry="11" fill="#ffffff"/>
<ellipse cx="92" cy="23" rx="13" ry="11" fill="#ffffff"/>
<ellipse cx="36" cy="30" rx="7" ry="12" fill="#525252"/>
<ellipse cx="38" cy="43" rx="8" ry="5" fill="#2b2b2b"/>
<ellipse cx="68" cy="28" rx="9" ry="15" fill="#858585"/>
<ellipse cx="85" cy="43" rx="16" ry="5" fill="#949494"/>
<ellipse cx="52" cy="11" rx="18" ry="2.5" fill="#cccccc" transform="rotate(-5 52 11)"/>
<ellipse cx="32" cy="11" rx="10" ry="1.5" fill="#525252" transform="rotate(-20 32 11)"/>
<ellipse cx="88" cy="30" rx="2.5" ry="2.5" fill="#5e5e5e"/>
<ellipse cx="100" cy="36" rx="5" ry="6" fill="#dedede"/>
</g></g>
<use href="#oB" fill="none" stroke="#fff000" stroke-width="2" stroke-dasharray="4.4 1.5"/>
</g>
<g transform="translate(360 302)">
<g clip-path="url(#cC)"><g filter="url(#f14)">
<rect x="0" y="0" width="114" height="58" fill="#575757"/>
<ellipse cx="24" cy="31" rx="12" ry="10" fill="#ffffff"/>
<ellipse cx="58" cy="23" rx="11" ry="8" fill="#ffffff"/>
<ellipse cx="59" cy="12" rx="16" ry="3.5" fill="#d9d9d9" transform="rotate(3 59 12)"/>
<ellipse cx="75" cy="17" rx="3" ry="6" fill="#d1d1d1" transform="rotate(-30 75 17)"/>
<ellipse cx="89" cy="30" rx="14" ry="15" fill="#ffffff"/>
<ellipse cx="88" cy="34" rx="4" ry="4" fill="#666666"/>
<ellipse cx="59" cy="33" rx="9" ry="3" fill="#b3b3b3"/>
<ellipse cx="65" cy="44" rx="5.5" ry="5" fill="#ffffff"/>
<ellipse cx="71" cy="31" rx="4" ry="8" fill="#8a8a8a"/>
<ellipse cx="60" cy="33" rx="7" ry="3" fill="#ababab"/>
<ellipse cx="35" cy="45" rx="10" ry="3" fill="#1f1f1f"/>
<ellipse cx="28" cy="12" rx="9" ry="3" fill="#2b2b2b" transform="rotate(-25 28 12)"/>
<ellipse cx="98" cy="45" rx="7" ry="2.5" fill="#919191"/>
<ellipse cx="44" cy="14" rx="5" ry="3" fill="#858585"/>
</g></g>
<use href="#oC" fill="none" stroke="#fff000" stroke-width="2" stroke-dasharray="4.4 1.5"/>
</g>
<g transform="translate(359 365.2)">
<g clip-path="url(#cA)"><g filter="url(#f15)">
<rect x="0" y="0" width="114" height="58" fill="#363636"/>
<ellipse cx="33" cy="30" rx="22" ry="19" fill="#707070"/>
<ellipse cx="40" cy="28" rx="12" ry="12" fill="#808080"/>
<ellipse cx="68" cy="13" rx="10" ry="5" fill="#5c5c5c"/>
<ellipse cx="97" cy="33" rx="10" ry="10" fill="#2b2b2b"/>
<ellipse cx="50" cy="48" rx="8" ry="2" fill="#0f0f0f"/>
<ellipse cx="85" cy="40" rx="8" ry="5" fill="#242424"/>
</g></g>
<use href="#oA" fill="none" stroke="#fff000" stroke-width="2" stroke-dasharray="4.4 1.5"/>
</g>
<g transform="translate(359 424.2)">
<g clip-path="url(#cB)"><g filter="url(#f16)">
<rect x="0" y="0" width="114" height="58" fill="#242424"/>
<ellipse cx="30" cy="33" rx="24" ry="13" fill="#383838"/>
<ellipse cx="30" cy="39" rx="12" ry="6" fill="#6b6b6b"/>
<ellipse cx="31" cy="39" rx="5" ry="3" fill="#8c8c8c"/>
<ellipse cx="46" cy="36" rx="4" ry="7" fill="#5c5c5c"/>
<ellipse cx="80" cy="30" rx="15" ry="10" fill="#292929"/>
</g></g>
<use href="#oB" fill="none" stroke="#fff000" stroke-width="2" stroke-dasharray="4.4 1.5"/>
</g>
<g transform="translate(359 482.2)">
<g clip-path="url(#cC)"><g filter="url(#f17)">
<rect x="0" y="0" width="114" height="58" fill="#3d3d3d"/>
<ellipse cx="32" cy="32" rx="5" ry="10" fill="#808080"/>
<ellipse cx="13" cy="28" rx="4" ry="3" fill="#bfbfbf"/>
<ellipse cx="55" cy="44" rx="10" ry="3" fill="#808080"/>
<ellipse cx="85" cy="30" rx="14" ry="10" fill="#333333"/>
<ellipse cx="45" cy="12" rx="14" ry="4" fill="#333333"/>
<ellipse cx="50" cy="28" rx="10" ry="8" fill="#545454"/>
<ellipse cx="32" cy="46" rx="6" ry="2.5" fill="#141414"/>
</g></g>
<use href="#oC" fill="none" stroke="#fff000" stroke-width="2" stroke-dasharray="4.4 1.5"/>
</g>
<line x1="168" y1="103" x2="168" y2="138" stroke="#ff8f8f" stroke-width="1"/>
<line x1="166.8" y1="103" x2="169.2" y2="103" stroke="#ff8f8f" stroke-width="1"/>
<rect x="165.8" y="138" width="4.4" height="17.8" fill="#fff" stroke="#ff8f8f" stroke-width="1.1"/>
<line x1="175" y1="145.7" x2="175" y2="152.5" stroke="#2fd02f" stroke-width="1"/>
<line x1="173.8" y1="145.7" x2="176.2" y2="145.7" stroke="#2fd02f" stroke-width="1"/>
<rect x="172.8" y="152.5" width="4.4" height="3.3" fill="#fff" stroke="#2fd02f" stroke-width="1.1"/>
<line x1="182" y1="132" x2="182" y2="148" stroke="#6464ff" stroke-width="1"/>
<line x1="180.8" y1="132" x2="183.2" y2="132" stroke="#6464ff" stroke-width="1"/>
<rect x="179.8" y="148" width="4.4" height="7.8" fill="#fff" stroke="#6464ff" stroke-width="1.1"/>
<line x1="195.5" y1="92.5" x2="195.5" y2="114.2" stroke="#ff8f8f" stroke-width="1"/>
<line x1="194.3" y1="92.5" x2="196.7" y2="92.5" stroke="#ff8f8f" stroke-width="1"/>
<rect x="193.3" y="114.2" width="4.4" height="41.6" fill="#fff" stroke="#ff8f8f" stroke-width="1.1"/>
<line x1="202.5" y1="145.7" x2="202.5" y2="151.2" stroke="#2fd02f" stroke-width="1"/>
<line x1="201.3" y1="145.7" x2="203.7" y2="145.7" stroke="#2fd02f" stroke-width="1"/>
<rect x="200.3" y="151.2" width="4.4" height="4.6" fill="#fff" stroke="#2fd02f" stroke-width="1.1"/>
<line x1="209.5" y1="128" x2="209.5" y2="142.5" stroke="#6464ff" stroke-width="1"/>
<line x1="208.3" y1="128" x2="210.7" y2="128" stroke="#6464ff" stroke-width="1"/>
<rect x="207.3" y="142.5" width="4.4" height="13.3" fill="#fff" stroke="#6464ff" stroke-width="1.1"/>
<line x1="223" y1="100" x2="223" y2="123" stroke="#ff8f8f" stroke-width="1"/>
<line x1="221.8" y1="100" x2="224.2" y2="100" stroke="#ff8f8f" stroke-width="1"/>
<rect x="220.8" y="123" width="4.4" height="32.8" fill="#fff" stroke="#ff8f8f" stroke-width="1.1"/>
<line x1="230" y1="150.7" x2="230" y2="153.7" stroke="#2fd02f" stroke-width="1"/>
<line x1="228.8" y1="150.7" x2="231.2" y2="150.7" stroke="#2fd02f" stroke-width="1"/>
<rect x="227.8" y="153.7" width="4.4" height="2.1" fill="#fff" stroke="#2fd02f" stroke-width="1.1"/>
<line x1="237" y1="135" x2="237" y2="146.7" stroke="#6464ff" stroke-width="1"/>
<line x1="235.8" y1="135" x2="238.2" y2="135" stroke="#6464ff" stroke-width="1"/>
<rect x="234.8" y="146.7" width="4.4" height="9.1" fill="#fff" stroke="#6464ff" stroke-width="1.1"/>
<line x1="250.5" y1="47" x2="250.5" y2="92.5" stroke="#ff8f8f" stroke-width="1"/>
<line x1="249.3" y1="47" x2="251.7" y2="47" stroke="#ff8f8f" stroke-width="1"/>
<rect x="248.3" y="92.5" width="4.4" height="63.3" fill="#fff" stroke="#ff8f8f" stroke-width="1.1"/>
<line x1="257.5" y1="141.2" x2="257.5" y2="149.2" stroke="#2fd02f" stroke-width="1"/>
<line x1="256.3" y1="141.2" x2="258.7" y2="141.2" stroke="#2fd02f" stroke-width="1"/>
<rect x="255.3" y="149.2" width="4.4" height="6.6" fill="#fff" stroke="#2fd02f" stroke-width="1.1"/>
<line x1="264.5" y1="119.2" x2="264.5" y2="139.5" stroke="#6464ff" stroke-width="1"/>
<line x1="263.3" y1="119.2" x2="265.7" y2="119.2" stroke="#6464ff" stroke-width="1"/>
<rect x="262.3" y="139.5" width="4.4" height="16.3" fill="#fff" stroke="#6464ff" stroke-width="1.1"/>
<line x1="278" y1="74.5" x2="278" y2="106" stroke="#ff8f8f" stroke-width="1"/>
<line x1="276.8" y1="74.5" x2="279.2" y2="74.5" stroke="#ff8f8f" stroke-width="1"/>
<rect x="275.8" y="106" width="4.4" height="49.8" fill="#fff" stroke="#ff8f8f" stroke-width="1.1"/>
<line x1="285" y1="123.7" x2="285" y2="136.7" stroke="#2fd02f" stroke-width="1"/>
<line x1="283.8" y1="123.7" x2="286.2" y2="123.7" stroke="#2fd02f" stroke-width="1"/>
<rect x="282.8" y="136.7" width="4.4" height="19.1" fill="#fff" stroke="#2fd02f" stroke-width="1.1"/>
<line x1="292" y1="100" x2="292" y2="121" stroke="#6464ff" stroke-width="1"/>
<line x1="290.8" y1="100" x2="293.2" y2="100" stroke="#6464ff" stroke-width="1"/>
<rect x="289.8" y="121" width="4.4" height="34.8" fill="#fff" stroke="#6464ff" stroke-width="1.1"/>
<line x1="305.5" y1="98.2" x2="305.5" y2="123.7" stroke="#ff8f8f" stroke-width="1"/>
<line x1="304.3" y1="98.2" x2="306.7" y2="98.2" stroke="#ff8f8f" stroke-width="1"/>
<rect x="303.3" y="123.7" width="4.4" height="32.1" fill="#fff" stroke="#ff8f8f" stroke-width="1.1"/>
<line x1="312.5" y1="130.7" x2="312.5" y2="148" stroke="#2fd02f" stroke-width="1"/>
<line x1="311.3" y1="130.7" x2="313.7" y2="130.7" stroke="#2fd02f" stroke-width="1"/>
<rect x="310.3" y="148" width="4.4" height="7.8" fill="#fff" stroke="#2fd02f" stroke-width="1.1"/>
<line x1="319.5" y1="121.2" x2="319.5" y2="130.5" stroke="#6464ff" stroke-width="1"/>
<line x1="318.3" y1="121.2" x2="320.7" y2="121.2" stroke="#6464ff" stroke-width="1"/>
<rect x="317.3" y="130.5" width="4.4" height="25.3" fill="#fff" stroke="#6464ff" stroke-width="1.1"/>
<line x1="333" y1="104.5" x2="333" y2="113.7" stroke="#ff8f8f" stroke-width="1"/>
<line x1="331.8" y1="104.5" x2="334.2" y2="104.5" stroke="#ff8f8f" stroke-width="1"/>
<rect x="330.8" y="113.7" width="4.4" height="42.1" fill="#fff" stroke="#ff8f8f" stroke-width="1.1"/>
<line x1="340" y1="125.7" x2="340" y2="145" stroke="#2fd02f" stroke-width="1"/>
<line x1="338.8" y1="125.7" x2="341.2" y2="125.7" stroke="#2fd02f" stroke-width="1"/>
<rect x="337.8" y="145" width="4.4" height="10.8" fill="#fff" stroke="#2fd02f" stroke-width="1.1"/>
<line x1="347" y1="106.2" x2="347" y2="131.2" stroke="#6464ff" stroke-width="1"/>
<line x1="345.8" y1="106.2" x2="348.2" y2="106.2" stroke="#6464ff" stroke-width="1"/>
<rect x="344.8" y="131.2" width="4.4" height="24.6" fill="#fff" stroke="#6464ff" stroke-width="1.1"/>
<line x1="163.5" y1="29" x2="163.5" y2="156.4" stroke="#4a4a4a" stroke-width="1.1"/>
<line x1="158.9" y1="155.8" x2="354" y2="155.8" stroke="#4a4a4a" stroke-width="1.5"/>
<line x1="158.9" y1="29.5" x2="163.5" y2="29.5" stroke="#4a4a4a" stroke-width="0.9"/>
<text x="157.2" y="32.1" font-family="Liberation Sans" font-size="7.4" font-weight="normal" text-anchor="end" textLength="21" lengthAdjust="spacingAndGlyphs" fill="#111" stroke="#111" stroke-width="0.3">100000</text>
<line x1="161.5" y1="50.55" x2="163.5" y2="50.55" stroke="#4a4a4a" stroke-width="0.9"/>
<line x1="161.5" y1="71.6" x2="163.5" y2="71.6" stroke="#4a4a4a" stroke-width="0.9"/>
<line x1="158.9" y1="92.65" x2="163.5" y2="92.65" stroke="#4a4a4a" stroke-width="0.9"/>
<text x="157.2" y="95.25" font-family="Liberation Sans" font-size="7.4" font-weight="normal" text-anchor="end" textLength="17.5" lengthAdjust="spacingAndGlyphs" fill="#111" stroke="#111" stroke-width="0.3">50000</text>
<line x1="161.5" y1="113.7" x2="163.5" y2="113.7" stroke="#4a4a4a" stroke-width="0.9"/>
<line x1="161.5" y1="134.75" x2="163.5" y2="134.75" stroke="#4a4a4a" stroke-width="0.9"/>
<line x1="158.9" y1="155.8" x2="163.5" y2="155.8" stroke="#4a4a4a" stroke-width="0.9"/>
<text x="157.2" y="158.4" font-family="Liberation Sans" font-size="7.4" font-weight="normal" text-anchor="end" textLength="3.5" lengthAdjust="spacingAndGlyphs" fill="#111" stroke="#111" stroke-width="0.3">0</text>
<line x1="175" y1="155.8" x2="175" y2="160.8" stroke="#4a4a4a" stroke-width="1"/>
<text x="175" y="169.1" font-family="Liberation Sans" font-size="7" font-weight="bold" text-anchor="middle" textLength="11.8" lengthAdjust="spacingAndGlyphs" fill="#111" stroke="#111" stroke-width="0.15">CTX</text>
<line x1="202.5" y1="155.8" x2="202.5" y2="160.8" stroke="#4a4a4a" stroke-width="1"/>
<text x="202.5" y="169.1" font-family="Liberation Sans" font-size="7" font-weight="bold" text-anchor="middle" textLength="7.6" lengthAdjust="spacingAndGlyphs" fill="#111" stroke="#111" stroke-width="0.15">HP</text>
<line x1="230" y1="155.8" x2="230" y2="160.8" stroke="#4a4a4a" stroke-width="1"/>
<text x="230" y="169.1" font-family="Liberation Sans" font-size="7" font-weight="bold" text-anchor="middle" textLength="7" lengthAdjust="spacingAndGlyphs" fill="#111" stroke="#111" stroke-width="0.15">FT</text>
<line x1="257.5" y1="155.8" x2="257.5" y2="160.8" stroke="#4a4a4a" stroke-width="1"/>
<text x="257.5" y="169.1" font-family="Liberation Sans" font-size="7" font-weight="bold" text-anchor="middle" textLength="12.2" lengthAdjust="spacingAndGlyphs" fill="#111" stroke="#111" stroke-width="0.15">CBC</text>
<line x1="285" y1="155.8" x2="285" y2="160.8" stroke="#4a4a4a" stroke-width="1"/>
<text x="285" y="169.1" font-family="Liberation Sans" font-size="7" font-weight="bold" text-anchor="middle" textLength="7.8" lengthAdjust="spacingAndGlyphs" fill="#111" stroke="#111" stroke-width="0.15">CP</text>
<line x1="312.5" y1="155.8" x2="312.5" y2="160.8" stroke="#4a4a4a" stroke-width="1"/>
<text x="312.5" y="169.1" font-family="Liberation Sans" font-size="7" font-weight="bold" text-anchor="middle" textLength="7.8" lengthAdjust="spacingAndGlyphs" fill="#111" stroke="#111" stroke-width="0.15">HY</text>
<line x1="340" y1="155.8" x2="340" y2="160.8" stroke="#4a4a4a" stroke-width="1"/>
<text x="340" y="169.1" font-family="Liberation Sans" font-size="7" font-weight="bold" text-anchor="middle" textLength="7.4" lengthAdjust="spacingAndGlyphs" fill="#111" stroke="#111" stroke-width="0.15">TH</text>
<path d="M167.5 100.1V97.5H175V100.1" fill="none" stroke="#111" stroke-width="0.8"/>
<text x="171.25" y="96.9" font-family="Liberation Sans" font-size="8" font-weight="bold" text-anchor="middle" textLength="7.6" lengthAdjust="spacingAndGlyphs" fill="#111">**</text>
<path d="M175.5 128.6V126H183V128.6" fill="none" stroke="#111" stroke-width="0.8"/>
<text x="179.25" y="123.6" font-family="Liberation Sans" font-size="4.6" font-weight="bold" text-anchor="middle" textLength="7.6" lengthAdjust="spacingAndGlyphs" fill="#222"># #</text>
<path d="M194.5 88.8V86.2H202V88.8" fill="none" stroke="#111" stroke-width="0.8"/>
<text x="198.25" y="85.6" font-family="Liberation Sans" font-size="8" font-weight="bold" text-anchor="middle" textLength="7.6" lengthAdjust="spacingAndGlyphs" fill="#111">**</text>
<path d="M202.5 123.8V121.2H210V123.8" fill="none" stroke="#111" stroke-width="0.8"/>
<text x="206.25" y="118.8" font-family="Liberation Sans" font-size="4.6" font-weight="bold" text-anchor="middle" textLength="2.8" lengthAdjust="spacingAndGlyphs" fill="#222">#</text>
<path d="M221.7 99.6V97H229.2V99.6" fill="none" stroke="#111" stroke-width="0.8"/>
<text x="225.45" y="96.4" font-family="Liberation Sans" font-size="8" font-weight="bold" text-anchor="middle" textLength="7.6" lengthAdjust="spacingAndGlyphs" fill="#111">**</text>
<path d="M230 131.3V128.7H237.5V131.3" fill="none" stroke="#111" stroke-width="0.8"/>
<text x="233.75" y="126.3" font-family="Liberation Sans" font-size="4.6" font-weight="bold" text-anchor="middle" textLength="7.6" lengthAdjust="spacingAndGlyphs" fill="#222"># #</text>
<path d="M250 44.6V42H257V44.6" fill="none" stroke="#111" stroke-width="0.8"/>
<text x="253.5" y="41.4" font-family="Liberation Sans" font-size="8" font-weight="bold" text-anchor="middle" textLength="7.6" lengthAdjust="spacingAndGlyphs" fill="#111">**</text>
<path d="M258 116.8V114.2H265.5V116.8" fill="none" stroke="#111" stroke-width="0.8"/>
<text x="261.75" y="111.8" font-family="Liberation Sans" font-size="4.6" font-weight="bold" text-anchor="middle" textLength="2.8" lengthAdjust="spacingAndGlyphs" fill="#222">#</text>
<path d="M277.5 70.6V68H284.5V70.6" fill="none" stroke="#111" stroke-width="0.8"/>
<text x="281" y="67.4" font-family="Liberation Sans" font-size="8" font-weight="bold" text-anchor="middle" textLength="7.6" lengthAdjust="spacingAndGlyphs" fill="#111">**</text>
<path d="M285 97.6V95H292.5V97.6" fill="none" stroke="#111" stroke-width="0.8"/>
<text x="288.75" y="92.6" font-family="Liberation Sans" font-size="4.6" font-weight="bold" text-anchor="middle" textLength="2.8" lengthAdjust="spacingAndGlyphs" fill="#222">#</text>
<path d="M304.5 96.3V93.7H312V96.3" fill="none" stroke="#111" stroke-width="0.8"/>
<text x="308.25" y="93.1" font-family="Liberation Sans" font-size="8" font-weight="bold" text-anchor="middle" textLength="7.6" lengthAdjust="spacingAndGlyphs" fill="#111">**</text>
<path d="M313.7 117.6V115H320.7V117.6" fill="none" stroke="#111" stroke-width="0.8"/>
<text x="317.2" y="112.6" font-family="Liberation Sans" font-size="4.6" font-weight="bold" text-anchor="middle" textLength="2.8" lengthAdjust="spacingAndGlyphs" fill="#222">#</text>
<path d="M332.5 100.6V98H340V100.6" fill="none" stroke="#111" stroke-width="0.8"/>
<text x="336.25" y="97.4" font-family="Liberation Sans" font-size="8" font-weight="bold" text-anchor="middle" textLength="7.6" lengthAdjust="spacingAndGlyphs" fill="#111">**</text>
<path d="M341.2 102.6V100H348V102.6" fill="none" stroke="#111" stroke-width="0.8"/>
<text x="344.6" y="97.6" font-family="Liberation Sans" font-size="4.6" font-weight="bold" text-anchor="middle" textLength="2.8" lengthAdjust="spacingAndGlyphs" fill="#222">#</text>
<text x="258.4" y="15.2" font-family="Liberation Serif" font-size="11.5" font-weight="bold" text-anchor="middle" textLength="46.4" lengthAdjust="spacingAndGlyphs">Threonine</text>
<text transform="translate(130.6 93.35) rotate(-90)" font-family="Liberation Serif" font-weight="bold" font-size="8" stroke="#000" stroke-width="0.15" text-anchor="middle" textLength="58.2" lengthAdjust="spacingAndGlyphs">Relative Intensity</text>
<line x1="165.4" y1="279.5" x2="165.4" y2="304.2" stroke="#ff8f8f" stroke-width="1"/>
<line x1="164.2" y1="279.5" x2="166.6" y2="279.5" stroke="#ff8f8f" stroke-width="1"/>
<rect x="163.2" y="304.2" width="4.4" height="30.6" fill="#fff" stroke="#ff8f8f" stroke-width="1.1"/>
<line x1="172.4" y1="312" x2="172.4" y2="330.5" stroke="#2fd02f" stroke-width="1"/>
<line x1="171.2" y1="312" x2="173.6" y2="312" stroke="#2fd02f" stroke-width="1"/>
<rect x="170.2" y="330.5" width="4.4" height="4.3" fill="#fff" stroke="#2fd02f" stroke-width="1.1"/>
<line x1="179.4" y1="296.7" x2="179.4" y2="321.7" stroke="#6464ff" stroke-width="1"/>
<line x1="178.2" y1="296.7" x2="180.6" y2="296.7" stroke="#6464ff" stroke-width="1"/>
<rect x="177.2" y="321.7" width="4.4" height="13.1" fill="#fff" stroke="#6464ff" stroke-width="1.1"/>
<line x1="193.25" y1="279.5" x2="193.25" y2="317.5" stroke="#ff8f8f" stroke-width="1"/>
<line x1="192.05" y1="279.5" x2="194.45" y2="279.5" stroke="#ff8f8f" stroke-width="1"/>
<rect x="191.05" y="317.5" width="4.4" height="17.3" fill="#fff" stroke="#ff8f8f" stroke-width="1.1"/>
<line x1="200.25" y1="296.7" x2="200.25" y2="321.7" stroke="#2fd02f" stroke-width="1"/>
<line x1="199.05" y1="296.7" x2="201.45" y2="296.7" stroke="#2fd02f" stroke-width="1"/>
<rect x="198.05" y="321.7" width="4.4" height="13.1" fill="#fff" stroke="#2fd02f" stroke-width="1.1"/>
<line x1="207.25" y1="290.7" x2="207.25" y2="319.5" stroke="#6464ff" stroke-width="1"/>
<line x1="206.05" y1="290.7" x2="208.45" y2="290.7" stroke="#6464ff" stroke-width="1"/>
<rect x="205.05" y="319.5" width="4.4" height="15.3" fill="#fff" stroke="#6464ff" stroke-width="1.1"/>
<line x1="221.1" y1="314.2" x2="221.1" y2="331.2" stroke="#ff8f8f" stroke-width="1"/>
<line x1="219.9" y1="314.2" x2="222.3" y2="314.2" stroke="#ff8f8f" stroke-width="1"/>
<rect x="218.9" y="331.2" width="4.4" height="3.6" fill="#fff" stroke="#ff8f8f" stroke-width="1.1"/>
<line x1="228.1" y1="319.2" x2="228.1" y2="333.7" stroke="#2fd02f" stroke-width="1"/>
<line x1="226.9" y1="319.2" x2="229.3" y2="319.2" stroke="#2fd02f" stroke-width="1"/>
<rect x="225.9" y="333.7" width="4.4" height="1.1" fill="#fff" stroke="#2fd02f" stroke-width="1.1"/>
<line x1="235.1" y1="327.5" x2="235.1" y2="330.7" stroke="#6464ff" stroke-width="1"/>
<line x1="233.9" y1="327.5" x2="236.3" y2="327.5" stroke="#6464ff" stroke-width="1"/>
<rect x="232.9" y="330.7" width="4.4" height="4.1" fill="#fff" stroke="#6464ff" stroke-width="1.1"/>
<line x1="248.95" y1="307.5" x2="248.95" y2="321.7" stroke="#ff8f8f" stroke-width="1"/>
<line x1="247.75" y1="307.5" x2="250.15" y2="307.5" stroke="#ff8f8f" stroke-width="1"/>
<rect x="246.75" y="321.7" width="4.4" height="13.1" fill="#fff" stroke="#ff8f8f" stroke-width="1.1"/>
<line x1="255.95" y1="316.2" x2="255.95" y2="332" stroke="#2fd02f" stroke-width="1"/>
<line x1="254.75" y1="316.2" x2="257.15" y2="316.2" stroke="#2fd02f" stroke-width="1"/>
<rect x="253.75" y="332" width="4.4" height="2.8" fill="#fff" stroke="#2fd02f" stroke-width="1.1"/>
<line x1="262.95" y1="310.7" x2="262.95" y2="325.5" stroke="#6464ff" stroke-width="1"/>
<line x1="261.75" y1="310.7" x2="264.15" y2="310.7" stroke="#6464ff" stroke-width="1"/>
<rect x="260.75" y="325.5" width="4.4" height="9.3" fill="#fff" stroke="#6464ff" stroke-width="1.1"/>
<line x1="276.8" y1="278" x2="276.8" y2="302.5" stroke="#ff8f8f" stroke-width="1"/>
<line x1="275.6" y1="278" x2="278" y2="278" stroke="#ff8f8f" stroke-width="1"/>
<rect x="274.6" y="302.5" width="4.4" height="32.3" fill="#fff" stroke="#ff8f8f" stroke-width="1.1"/>
<line x1="283.8" y1="326.2" x2="283.8" y2="333.7" stroke="#2fd02f" stroke-width="1"/>
<line x1="282.6" y1="326.2" x2="285" y2="326.2" stroke="#2fd02f" stroke-width="1"/>
<rect x="281.6" y="333.7" width="4.4" height="1.1" fill="#fff" stroke="#2fd02f" stroke-width="1.1"/>
<line x1="290.8" y1="308" x2="290.8" y2="329.5" stroke="#6464ff" stroke-width="1"/>
<line x1="289.6" y1="308" x2="292" y2="308" stroke="#6464ff" stroke-width="1"/>
<rect x="288.6" y="329.5" width="4.4" height="5.3" fill="#fff" stroke="#6464ff" stroke-width="1.1"/>
<line x1="304.65" y1="252" x2="304.65" y2="297" stroke="#ff8f8f" stroke-width="1"/>
<line x1="303.45" y1="252" x2="305.85" y2="252" stroke="#ff8f8f" stroke-width="1"/>
<rect x="302.45" y="297" width="4.4" height="37.8" fill="#fff" stroke="#ff8f8f" stroke-width="1.1"/>
<line x1="311.65" y1="257.5" x2="311.65" y2="302" stroke="#2fd02f" stroke-width="1"/>
<line x1="310.45" y1="257.5" x2="312.85" y2="257.5" stroke="#2fd02f" stroke-width="1"/>
<rect x="309.45" y="302" width="4.4" height="32.8" fill="#fff" stroke="#2fd02f" stroke-width="1.1"/>
<line x1="318.65" y1="290.7" x2="318.65" y2="319.5" stroke="#6464ff" stroke-width="1"/>
<line x1="317.45" y1="290.7" x2="319.85" y2="290.7" stroke="#6464ff" stroke-width="1"/>
<rect x="316.45" y="319.5" width="4.4" height="15.3" fill="#fff" stroke="#6464ff" stroke-width="1.1"/>
<line x1="332.5" y1="289.5" x2="332.5" y2="308.7" stroke="#ff8f8f" stroke-width="1"/>
<line x1="331.3" y1="289.5" x2="333.7" y2="289.5" stroke="#ff8f8f" stroke-width="1"/>
<rect x="330.3" y="308.7" width="4.4" height="26.1" fill="#fff" stroke="#ff8f8f" stroke-width="1.1"/>
<line x1="339.5" y1="311.2" x2="339.5" y2="328.7" stroke="#2fd02f" stroke-width="1"/>
<line x1="338.3" y1="311.2" x2="340.7" y2="311.2" stroke="#2fd02f" stroke-width="1"/>
<rect x="337.3" y="328.7" width="4.4" height="6.1" fill="#fff" stroke="#2fd02f" stroke-width="1.1"/>
<line x1="346.5" y1="304.5" x2="346.5" y2="325.7" stroke="#6464ff" stroke-width="1"/>
<line x1="345.3" y1="304.5" x2="347.7" y2="304.5" stroke="#6464ff" stroke-width="1"/>
<rect x="344.3" y="325.7" width="4.4" height="9.1" fill="#fff" stroke="#6464ff" stroke-width="1.1"/>
<line x1="161" y1="206.3" x2="161" y2="335.4" stroke="#4a4a4a" stroke-width="1.8"/>
<line x1="156.4" y1="334.8" x2="354" y2="334.8" stroke="#4a4a4a" stroke-width="1.5"/>
<line x1="156.4" y1="206.8" x2="161" y2="206.8" stroke="#4a4a4a" stroke-width="0.9"/>
<text x="154.7" y="209.4" font-family="Liberation Sans" font-size="7.4" font-weight="normal" text-anchor="end" textLength="17.5" lengthAdjust="spacingAndGlyphs" fill="#111" stroke="#111" stroke-width="0.3">10000</text>
<line x1="159" y1="228.13" x2="161" y2="228.13" stroke="#4a4a4a" stroke-width="0.9"/>
<line x1="159" y1="249.47" x2="161" y2="249.47" stroke="#4a4a4a" stroke-width="0.9"/>
<line x1="156.4" y1="270.8" x2="161" y2="270.8" stroke="#4a4a4a" stroke-width="0.9"/>
<text x="154.7" y="273.4" font-family="Liberation Sans" font-size="7.4" font-weight="normal" text-anchor="end" textLength="14" lengthAdjust="spacingAndGlyphs" fill="#111" stroke="#111" stroke-width="0.3">5000</text>
<line x1="159" y1="292.13" x2="161" y2="292.13" stroke="#4a4a4a" stroke-width="0.9"/>
<line x1="159" y1="313.47" x2="161" y2="313.47" stroke="#4a4a4a" stroke-width="0.9"/>
<line x1="156.4" y1="334.8" x2="161" y2="334.8" stroke="#4a4a4a" stroke-width="0.9"/>
<text x="154.7" y="337.4" font-family="Liberation Sans" font-size="7.4" font-weight="normal" text-anchor="end" textLength="3.5" lengthAdjust="spacingAndGlyphs" fill="#111" stroke="#111" stroke-width="0.3">0</text>
<line x1="172.4" y1="334.8" x2="172.4" y2="339.8" stroke="#4a4a4a" stroke-width="1"/>
<text x="172.4" y="348.1" font-family="Liberation Sans" font-size="7" font-weight="bold" text-anchor="middle" textLength="11.8" lengthAdjust="spacingAndGlyphs" fill="#111" stroke="#111" stroke-width="0.15">CTX</text>
<line x1="200.25" y1="334.8" x2="200.25" y2="339.8" stroke="#4a4a4a" stroke-width="1"/>
<text x="200.25" y="348.1" font-family="Liberation Sans" font-size="7" font-weight="bold" text-anchor="middle" textLength="7.6" lengthAdjust="spacingAndGlyphs" fill="#111" stroke="#111" stroke-width="0.15">HP</text>
<line x1="228.1" y1="334.8" x2="228.1" y2="339.8" stroke="#4a4a4a" stroke-width="1"/>
<text x="228.1" y="348.1" font-family="Liberation Sans" font-size="7" font-weight="bold" text-anchor="middle" textLength="7" lengthAdjust="spacingAndGlyphs" fill="#111" stroke="#111" stroke-width="0.15">FT</text>
<line x1="255.95" y1="334.8" x2="255.95" y2="339.8" stroke="#4a4a4a" stroke-width="1"/>
<text x="255.95" y="348.1" font-family="Liberation Sans" font-size="7" font-weight="bold" text-anchor="middle" textLength="12.2" lengthAdjust="spacingAndGlyphs" fill="#111" stroke="#111" stroke-width="0.15">CBC</text>
<line x1="283.8" y1="334.8" x2="283.8" y2="339.8" stroke="#4a4a4a" stroke-width="1"/>
<text x="283.8" y="348.1" font-family="Liberation Sans" font-size="7" font-weight="bold" text-anchor="middle" textLength="7.8" lengthAdjust="spacingAndGlyphs" fill="#111" stroke="#111" stroke-width="0.15">CP</text>
<line x1="311.65" y1="334.8" x2="311.65" y2="339.8" stroke="#4a4a4a" stroke-width="1"/>
<text x="311.65" y="348.1" font-family="Liberation Sans" font-size="7" font-weight="bold" text-anchor="middle" textLength="7.8" lengthAdjust="spacingAndGlyphs" fill="#111" stroke="#111" stroke-width="0.15">HY</text>
<line x1="339.5" y1="334.8" x2="339.5" y2="339.8" stroke="#4a4a4a" stroke-width="1"/>
<text x="339.5" y="348.1" font-family="Liberation Sans" font-size="7" font-weight="bold" text-anchor="middle" textLength="7.4" lengthAdjust="spacingAndGlyphs" fill="#111" stroke="#111" stroke-width="0.15">TH</text>
<path d="M165.5 267.6V265H173V267.6" fill="none" stroke="#111" stroke-width="0.8"/>
<text x="169.25" y="264.4" font-family="Liberation Sans" font-size="8" font-weight="bold" text-anchor="middle" textLength="7.6" lengthAdjust="spacingAndGlyphs" fill="#111">**</text>
<path d="M173 292.1V289.5H180.5V292.1" fill="none" stroke="#111" stroke-width="0.8"/>
<text x="176.75" y="287.1" font-family="Liberation Sans" font-size="4.6" font-weight="bold" text-anchor="middle" textLength="7.6" lengthAdjust="spacingAndGlyphs" fill="#222"># #</text>
<path d="M193.2 275.1V272.5H200V275.1" fill="none" stroke="#111" stroke-width="0.8"/>
<text x="196.6" y="271.9" font-family="Liberation Sans" font-size="8" font-weight="bold" text-anchor="middle" textLength="3.2" lengthAdjust="spacingAndGlyphs" fill="#111">*</text>
<path d="M200.5 287.1V284.5H207.5V287.1" fill="none" stroke="#111" stroke-width="0.8"/>
<text x="204" y="282.1" font-family="Liberation Sans" font-size="4.6" font-weight="bold" text-anchor="middle" textLength="2.8" lengthAdjust="spacingAndGlyphs" fill="#222">#</text>
<path d="M220 309.6V307H227V309.6" fill="none" stroke="#111" stroke-width="0.8"/>
<text x="223.5" y="306.4" font-family="Liberation Sans" font-size="8" font-weight="bold" text-anchor="middle" textLength="3.2" lengthAdjust="spacingAndGlyphs" fill="#111">*</text>
<path d="M228.7 315.1V312.5H235V315.1" fill="none" stroke="#111" stroke-width="0.8"/>
<text x="231.85" y="310.1" font-family="Liberation Sans" font-size="4.6" font-weight="bold" text-anchor="middle" textLength="2.8" lengthAdjust="spacingAndGlyphs" fill="#222">#</text>
<path d="M248.2 305.6V303H255V305.6" fill="none" stroke="#111" stroke-width="0.8"/>
<text x="251.6" y="302.4" font-family="Liberation Sans" font-size="8" font-weight="bold" text-anchor="middle" textLength="3.2" lengthAdjust="spacingAndGlyphs" fill="#111">*</text>
<path d="M257.5 308.3V305.7H264.5V308.3" fill="none" stroke="#111" stroke-width="0.8"/>
<text x="261" y="303.3" font-family="Liberation Sans" font-size="4.6" font-weight="bold" text-anchor="middle" textLength="2.8" lengthAdjust="spacingAndGlyphs" fill="#222">#</text>
<path d="M275.7 275.1V272.5H283V275.1" fill="none" stroke="#111" stroke-width="0.8"/>
<text x="279.35" y="271.9" font-family="Liberation Sans" font-size="8" font-weight="bold" text-anchor="middle" textLength="7.6" lengthAdjust="spacingAndGlyphs" fill="#111">**</text>
<path d="M283.7 305.6V303H291.2V305.6" fill="none" stroke="#111" stroke-width="0.8"/>
<text x="287.45" y="300.6" font-family="Liberation Sans" font-size="4.6" font-weight="bold" text-anchor="middle" textLength="7.6" lengthAdjust="spacingAndGlyphs" fill="#222"># #</text>
<path d="M305 246.8V244.2H312V246.8" fill="none" stroke="#111" stroke-width="0.8"/>
<text x="308.5" y="243.6" font-family="Liberation Sans" font-size="8" font-weight="bold" text-anchor="middle" textLength="3.2" lengthAdjust="spacingAndGlyphs" fill="#111">*</text>
<path d="M312 280.8V278.2H319.2V280.8" fill="none" stroke="#111" stroke-width="0.8"/>
<text x="315.6" y="275.8" font-family="Liberation Sans" font-size="4.6" font-weight="bold" text-anchor="middle" textLength="7.6" lengthAdjust="spacingAndGlyphs" fill="#222"># #</text>
<path d="M331.7 287.1V284.5H339.2V287.1" fill="none" stroke="#111" stroke-width="0.8"/>
<text x="335.45" y="283.9" font-family="Liberation Sans" font-size="8" font-weight="bold" text-anchor="middle" textLength="7.6" lengthAdjust="spacingAndGlyphs" fill="#111">**</text>
<path d="M340.7 300.8V298.2H348V300.8" fill="none" stroke="#111" stroke-width="0.8"/>
<text x="344.35" y="295.8" font-family="Liberation Sans" font-size="4.6" font-weight="bold" text-anchor="middle" textLength="2.8" lengthAdjust="spacingAndGlyphs" fill="#222">#</text>
<text x="257.5" y="192.3" font-family="Liberation Serif" font-size="11.5" font-weight="bold" text-anchor="middle" textLength="28.4" lengthAdjust="spacingAndGlyphs">Serine</text>
<text transform="translate(130.6 271.5) rotate(-90)" font-family="Liberation Serif" font-weight="bold" font-size="8" stroke="#000" stroke-width="0.15" text-anchor="middle" textLength="58.2" lengthAdjust="spacingAndGlyphs">Relative Intensity</text>
<line x1="167.7" y1="498.2" x2="167.7" y2="507.5" stroke="#ff8f8f" stroke-width="1"/>
<line x1="166.5" y1="498.2" x2="168.9" y2="498.2" stroke="#ff8f8f" stroke-width="1"/>
<rect x="165.5" y="507.5" width="4.4" height="7.9" fill="#fff" stroke="#ff8f8f" stroke-width="1.1"/>
<line x1="174.7" y1="469.5" x2="174.7" y2="480.7" stroke="#2fd02f" stroke-width="1"/>
<line x1="173.5" y1="469.5" x2="175.9" y2="469.5" stroke="#2fd02f" stroke-width="1"/>
<rect x="172.5" y="480.7" width="4.4" height="34.7" fill="#fff" stroke="#2fd02f" stroke-width="1.1"/>
<line x1="181.7" y1="481.2" x2="181.7" y2="493" stroke="#6464ff" stroke-width="1"/>
<line x1="180.5" y1="481.2" x2="182.9" y2="481.2" stroke="#6464ff" stroke-width="1"/>
<rect x="179.5" y="493" width="4.4" height="22.4" fill="#fff" stroke="#6464ff" stroke-width="1.1"/>
<line x1="195.2" y1="488.2" x2="195.2" y2="502" stroke="#ff8f8f" stroke-width="1"/>
<line x1="194" y1="488.2" x2="196.4" y2="488.2" stroke="#ff8f8f" stroke-width="1"/>
<rect x="193" y="502" width="4.4" height="13.4" fill="#fff" stroke="#ff8f8f" stroke-width="1.1"/>
<line x1="202.2" y1="461.2" x2="202.2" y2="472.5" stroke="#2fd02f" stroke-width="1"/>
<line x1="201" y1="461.2" x2="203.4" y2="461.2" stroke="#2fd02f" stroke-width="1"/>
<rect x="200" y="472.5" width="4.4" height="42.9" fill="#fff" stroke="#2fd02f" stroke-width="1.1"/>
<line x1="209.2" y1="471.2" x2="209.2" y2="484.5" stroke="#6464ff" stroke-width="1"/>
<line x1="208" y1="471.2" x2="210.4" y2="471.2" stroke="#6464ff" stroke-width="1"/>
<rect x="207" y="484.5" width="4.4" height="30.9" fill="#fff" stroke="#6464ff" stroke-width="1.1"/>
<line x1="222.7" y1="483" x2="222.7" y2="491.2" stroke="#ff8f8f" stroke-width="1"/>
<line x1="221.5" y1="483" x2="223.9" y2="483" stroke="#ff8f8f" stroke-width="1"/>
<rect x="220.5" y="491.2" width="4.4" height="24.2" fill="#fff" stroke="#ff8f8f" stroke-width="1.1"/>
<line x1="229.7" y1="478.7" x2="229.7" y2="489.2" stroke="#2fd02f" stroke-width="1"/>
<line x1="228.5" y1="478.7" x2="230.9" y2="478.7" stroke="#2fd02f" stroke-width="1"/>
<rect x="227.5" y="489.2" width="4.4" height="26.2" fill="#fff" stroke="#2fd02f" stroke-width="1.1"/>
<line x1="236.7" y1="476.2" x2="236.7" y2="489.5" stroke="#6464ff" stroke-width="1"/>
<line x1="235.5" y1="476.2" x2="237.9" y2="476.2" stroke="#6464ff" stroke-width="1"/>
<rect x="234.5" y="489.5" width="4.4" height="25.9" fill="#fff" stroke="#6464ff" stroke-width="1.1"/>
<line x1="250.2" y1="474.5" x2="250.2" y2="484.2" stroke="#ff8f8f" stroke-width="1"/>
<line x1="249" y1="474.5" x2="251.4" y2="474.5" stroke="#ff8f8f" stroke-width="1"/>
<rect x="248" y="484.2" width="4.4" height="31.2" fill="#fff" stroke="#ff8f8f" stroke-width="1.1"/>
<line x1="257.2" y1="465" x2="257.2" y2="472.5" stroke="#2fd02f" stroke-width="1"/>
<line x1="256" y1="465" x2="258.4" y2="465" stroke="#2fd02f" stroke-width="1"/>
<rect x="255" y="472.5" width="4.4" height="42.9" fill="#fff" stroke="#2fd02f" stroke-width="1.1"/>
<line x1="264.2" y1="470" x2="264.2" y2="482.5" stroke="#6464ff" stroke-width="1"/>
<line x1="263" y1="470" x2="265.4" y2="470" stroke="#6464ff" stroke-width="1"/>
<rect x="262" y="482.5" width="4.4" height="32.9" fill="#fff" stroke="#6464ff" stroke-width="1.1"/>
<line x1="277.7" y1="486.2" x2="277.7" y2="495" stroke="#ff8f8f" stroke-width="1"/>
<line x1="276.5" y1="486.2" x2="278.9" y2="486.2" stroke="#ff8f8f" stroke-width="1"/>
<rect x="275.5" y="495" width="4.4" height="20.4" fill="#fff" stroke="#ff8f8f" stroke-width="1.1"/>
<line x1="284.7" y1="488.2" x2="284.7" y2="500" stroke="#2fd02f" stroke-width="1"/>
<line x1="283.5" y1="488.2" x2="285.9" y2="488.2" stroke="#2fd02f" stroke-width="1"/>
<rect x="282.5" y="500" width="4.4" height="15.4" fill="#fff" stroke="#2fd02f" stroke-width="1.1"/>
<line x1="291.7" y1="470" x2="291.7" y2="488.7" stroke="#6464ff" stroke-width="1"/>
<line x1="290.5" y1="470" x2="292.9" y2="470" stroke="#6464ff" stroke-width="1"/>
<rect x="289.5" y="488.7" width="4.4" height="26.7" fill="#fff" stroke="#6464ff" stroke-width="1.1"/>
<line x1="305.2" y1="485.7" x2="305.2" y2="495" stroke="#ff8f8f" stroke-width="1"/>
<line x1="304" y1="485.7" x2="306.4" y2="485.7" stroke="#ff8f8f" stroke-width="1"/>
<rect x="303" y="495" width="4.4" height="20.4" fill="#fff" stroke="#ff8f8f" stroke-width="1.1"/>
<line x1="312.2" y1="481.2" x2="312.2" y2="497" stroke="#2fd02f" stroke-width="1"/>
<line x1="311" y1="481.2" x2="313.4" y2="481.2" stroke="#2fd02f" stroke-width="1"/>
<rect x="310" y="497" width="4.4" height="18.4" fill="#fff" stroke="#2fd02f" stroke-width="1.1"/>
<line x1="319.2" y1="478.2" x2="319.2" y2="497" stroke="#6464ff" stroke-width="1"/>
<line x1="318" y1="478.2" x2="320.4" y2="478.2" stroke="#6464ff" stroke-width="1"/>
<rect x="317" y="497" width="4.4" height="18.4" fill="#fff" stroke="#6464ff" stroke-width="1.1"/>
<line x1="332.7" y1="460.7" x2="332.7" y2="473" stroke="#ff8f8f" stroke-width="1"/>
<line x1="331.5" y1="460.7" x2="333.9" y2="460.7" stroke="#ff8f8f" stroke-width="1"/>
<rect x="330.5" y="473" width="4.4" height="42.4" fill="#fff" stroke="#ff8f8f" stroke-width="1.1"/>
<line x1="339.7" y1="413" x2="339.7" y2="428" stroke="#2fd02f" stroke-width="1"/>
<line x1="338.5" y1="413" x2="340.9" y2="413" stroke="#2fd02f" stroke-width="1"/>
<rect x="337.5" y="428" width="4.4" height="87.4" fill="#fff" stroke="#2fd02f" stroke-width="1.1"/>
<line x1="346.7" y1="464.2" x2="346.7" y2="481.2" stroke="#6464ff" stroke-width="1"/>
<line x1="345.5" y1="464.2" x2="347.9" y2="464.2" stroke="#6464ff" stroke-width="1"/>
<rect x="344.5" y="481.2" width="4.4" height="34.2" fill="#fff" stroke="#6464ff" stroke-width="1.1"/>
<line x1="163.2" y1="388.6" x2="163.2" y2="516" stroke="#4a4a4a" stroke-width="1.1"/>
<line x1="158.6" y1="515.4" x2="354" y2="515.4" stroke="#4a4a4a" stroke-width="1.5"/>
<line x1="158.6" y1="389.1" x2="163.2" y2="389.1" stroke="#4a4a4a" stroke-width="0.9"/>
<text x="156.9" y="391.7" font-family="Liberation Sans" font-size="7.4" font-weight="normal" text-anchor="end" textLength="21" lengthAdjust="spacingAndGlyphs" fill="#111" stroke="#111" stroke-width="0.3">100000</text>
<line x1="161.2" y1="410.15" x2="163.2" y2="410.15" stroke="#4a4a4a" stroke-width="0.9"/>
<line x1="161.2" y1="431.2" x2="163.2" y2="431.2" stroke="#4a4a4a" stroke-width="0.9"/>
<line x1="158.6" y1="452.25" x2="163.2" y2="452.25" stroke="#4a4a4a" stroke-width="0.9"/>
<text x="156.9" y="454.85" font-family="Liberation Sans" font-size="7.4" font-weight="normal" text-anchor="end" textLength="17.5" lengthAdjust="spacingAndGlyphs" fill="#111" stroke="#111" stroke-width="0.3">50000</text>
<line x1="161.2" y1="473.3" x2="163.2" y2="473.3" stroke="#4a4a4a" stroke-width="0.9"/>
<line x1="161.2" y1="494.35" x2="163.2" y2="494.35" stroke="#4a4a4a" stroke-width="0.9"/>
<line x1="158.6" y1="515.4" x2="163.2" y2="515.4" stroke="#4a4a4a" stroke-width="0.9"/>
<text x="156.9" y="518" font-family="Liberation Sans" font-size="7.4" font-weight="normal" text-anchor="end" textLength="3.5" lengthAdjust="spacingAndGlyphs" fill="#111" stroke="#111" stroke-width="0.3">0</text>
<line x1="174.7" y1="515.4" x2="174.7" y2="520.4" stroke="#4a4a4a" stroke-width="1"/>
<text x="174.7" y="528.7" font-family="Liberation Sans" font-size="7" font-weight="bold" text-anchor="middle" textLength="11.8" lengthAdjust="spacingAndGlyphs" fill="#111" stroke="#111" stroke-width="0.15">CTX</text>
<line x1="202.2" y1="515.4" x2="202.2" y2="520.4" stroke="#4a4a4a" stroke-width="1"/>
<text x="202.2" y="528.7" font-family="Liberation Sans" font-size="7" font-weight="bold" text-anchor="middle" textLength="7.6" lengthAdjust="spacingAndGlyphs" fill="#111" stroke="#111" stroke-width="0.15">HP</text>
<line x1="229.7" y1="515.4" x2="229.7" y2="520.4" stroke="#4a4a4a" stroke-width="1"/>
<text x="229.7" y="528.7" font-family="Liberation Sans" font-size="7" font-weight="bold" text-anchor="middle" textLength="7" lengthAdjust="spacingAndGlyphs" fill="#111" stroke="#111" stroke-width="0.15">FT</text>
<line x1="257.2" y1="515.4" x2="257.2" y2="520.4" stroke="#4a4a4a" stroke-width="1"/>
<text x="257.2" y="528.7" font-family="Liberation Sans" font-size="7" font-weight="bold" text-anchor="middle" textLength="12.2" lengthAdjust="spacingAndGlyphs" fill="#111" stroke="#111" stroke-width="0.15">CBC</text>
<line x1="284.7" y1="515.4" x2="284.7" y2="520.4" stroke="#4a4a4a" stroke-width="1"/>
<text x="284.7" y="528.7" font-family="Liberation Sans" font-size="7" font-weight="bold" text-anchor="middle" textLength="7.8" lengthAdjust="spacingAndGlyphs" fill="#111" stroke="#111" stroke-width="0.15">CP</text>
<line x1="312.2" y1="515.4" x2="312.2" y2="520.4" stroke="#4a4a4a" stroke-width="1"/>
<text x="312.2" y="528.7" font-family="Liberation Sans" font-size="7" font-weight="bold" text-anchor="middle" textLength="7.8" lengthAdjust="spacingAndGlyphs" fill="#111" stroke="#111" stroke-width="0.15">HY</text>
<line x1="339.7" y1="515.4" x2="339.7" y2="520.4" stroke="#4a4a4a" stroke-width="1"/>
<text x="339.7" y="528.7" font-family="Liberation Sans" font-size="7" font-weight="bold" text-anchor="middle" textLength="7.4" lengthAdjust="spacingAndGlyphs" fill="#111" stroke="#111" stroke-width="0.15">TH</text>
<path d="M168.7 466.3V463.7H176.2V466.3" fill="none" stroke="#111" stroke-width="0.8"/>
<text x="172.45" y="463.1" font-family="Liberation Sans" font-size="8" font-weight="bold" text-anchor="middle" textLength="7.6" lengthAdjust="spacingAndGlyphs" fill="#111">**</text>
<path d="M176.2 466.3V463.7H183.7V466.3" fill="none" stroke="#111" stroke-width="0.8"/>
<text x="179.95" y="461.3" font-family="Liberation Sans" font-size="4.6" font-weight="bold" text-anchor="middle" textLength="2.8" lengthAdjust="spacingAndGlyphs" fill="#222">#</text>
<path d="M195 458.3V455.7H202.5V458.3" fill="none" stroke="#111" stroke-width="0.8"/>
<text x="198.75" y="455.1" font-family="Liberation Sans" font-size="8" font-weight="bold" text-anchor="middle" textLength="7.6" lengthAdjust="spacingAndGlyphs" fill="#111">**</text>
<path d="M202.5 458.3V455.7H210V458.3" fill="none" stroke="#111" stroke-width="0.8"/>
<text x="206.25" y="453.3" font-family="Liberation Sans" font-size="4.6" font-weight="bold" text-anchor="middle" textLength="2.8" lengthAdjust="spacingAndGlyphs" fill="#222">#</text>
<path d="M250.5 461.3V458.7H257.5V461.3" fill="none" stroke="#111" stroke-width="0.8"/>
<text x="254" y="458.1" font-family="Liberation Sans" font-size="8" font-weight="bold" text-anchor="middle" textLength="3.2" lengthAdjust="spacingAndGlyphs" fill="#111">*</text>
<path d="M258 461.3V458.7H265V461.3" fill="none" stroke="#111" stroke-width="0.8"/>
<text x="261.5" y="456.3" font-family="Liberation Sans" font-size="4.6" font-weight="bold" text-anchor="middle" textLength="2.8" lengthAdjust="spacingAndGlyphs" fill="#222">#</text>
<path d="M277.5 482.1V479.5H285V482.1" fill="none" stroke="#111" stroke-width="0.8"/>
<text x="281.25" y="478.9" font-family="Liberation Sans" font-size="8" font-weight="bold" text-anchor="middle" textLength="7.6" lengthAdjust="spacingAndGlyphs" fill="#111">**</text>
<path d="M285.5 468.8V466.2H292.5V468.8" fill="none" stroke="#111" stroke-width="0.8"/>
<text x="289" y="463.8" font-family="Liberation Sans" font-size="4.6" font-weight="bold" text-anchor="middle" textLength="7.6" lengthAdjust="spacingAndGlyphs" fill="#222"># #</text>
<path d="M333.2 410.8V408.2H340.7V410.8" fill="none" stroke="#111" stroke-width="0.8"/>
<text x="336.95" y="407.6" font-family="Liberation Sans" font-size="8" font-weight="bold" text-anchor="middle" textLength="7.6" lengthAdjust="spacingAndGlyphs" fill="#111">**</text>
<path d="M341.7 412.6V410H349.2V412.6" fill="none" stroke="#111" stroke-width="0.8"/>
<text x="345.45" y="407.6" font-family="Liberation Sans" font-size="4.6" font-weight="bold" text-anchor="middle" textLength="7.6" lengthAdjust="spacingAndGlyphs" fill="#222"># #</text>
<text x="258.7" y="374.3" font-family="Liberation Serif" font-size="11.5" font-weight="bold" text-anchor="middle" textLength="54" lengthAdjust="spacingAndGlyphs">L-Aspartate</text>
<text transform="translate(130.6 452.95) rotate(-90)" font-family="Liberation Serif" font-weight="bold" font-size="8" stroke="#000" stroke-width="0.15" text-anchor="middle" textLength="58.2" lengthAdjust="spacingAndGlyphs">Relative Intensity</text>
<line x1="528" y1="92" x2="528" y2="102" stroke="#ff8f8f" stroke-width="1"/>
<line x1="526.8" y1="92" x2="529.2" y2="92" stroke="#ff8f8f" stroke-width="1"/>
<rect x="525.8" y="102" width="4.4" height="54" fill="#fff" stroke="#ff8f8f" stroke-width="1.1"/>
<line x1="535" y1="141.7" x2="535" y2="151.2" stroke="#2fd02f" stroke-width="1"/>
<line x1="533.8" y1="141.7" x2="536.2" y2="141.7" stroke="#2fd02f" stroke-width="1"/>
<rect x="532.8" y="151.2" width="4.4" height="4.8" fill="#fff" stroke="#2fd02f" stroke-width="1.1"/>
<line x1="542" y1="122" x2="542" y2="132" stroke="#6464ff" stroke-width="1"/>
<line x1="540.8" y1="122" x2="543.2" y2="122" stroke="#6464ff" stroke-width="1"/>
<rect x="539.8" y="132" width="4.4" height="24" fill="#fff" stroke="#6464ff" stroke-width="1.1"/>
<line x1="555.5" y1="77.5" x2="555.5" y2="86.7" stroke="#ff8f8f" stroke-width="1"/>
<line x1="554.3" y1="77.5" x2="556.7" y2="77.5" stroke="#ff8f8f" stroke-width="1"/>
<rect x="553.3" y="86.7" width="4.4" height="69.3" fill="#fff" stroke="#ff8f8f" stroke-width="1.1"/>
<line x1="562.5" y1="123.2" x2="562.5" y2="131.2" stroke="#2fd02f" stroke-width="1"/>
<line x1="561.3" y1="123.2" x2="563.7" y2="123.2" stroke="#2fd02f" stroke-width="1"/>
<rect x="560.3" y="131.2" width="4.4" height="24.8" fill="#fff" stroke="#2fd02f" stroke-width="1.1"/>
<line x1="569.5" y1="108.7" x2="569.5" y2="120" stroke="#6464ff" stroke-width="1"/>
<line x1="568.3" y1="108.7" x2="570.7" y2="108.7" stroke="#6464ff" stroke-width="1"/>
<rect x="567.3" y="120" width="4.4" height="36" fill="#fff" stroke="#6464ff" stroke-width="1.1"/>
<line x1="583" y1="83" x2="583" y2="93.2" stroke="#ff8f8f" stroke-width="1"/>
<line x1="581.8" y1="83" x2="584.2" y2="83" stroke="#ff8f8f" stroke-width="1"/>
<rect x="580.8" y="93.2" width="4.4" height="62.8" fill="#fff" stroke="#ff8f8f" stroke-width="1.1"/>
<line x1="590" y1="122" x2="590" y2="130" stroke="#2fd02f" stroke-width="1"/>
<line x1="588.8" y1="122" x2="591.2" y2="122" stroke="#2fd02f" stroke-width="1"/>
<rect x="587.8" y="130" width="4.4" height="26" fill="#fff" stroke="#2fd02f" stroke-width="1.1"/>
<line x1="597" y1="83" x2="597" y2="99.2" stroke="#6464ff" stroke-width="1"/>
<line x1="595.8" y1="83" x2="598.2" y2="83" stroke="#6464ff" stroke-width="1"/>
<rect x="594.8" y="99.2" width="4.4" height="56.8" fill="#fff" stroke="#6464ff" stroke-width="1.1"/>
<line x1="610.5" y1="82" x2="610.5" y2="95.5" stroke="#ff8f8f" stroke-width="1"/>
<line x1="609.3" y1="82" x2="611.7" y2="82" stroke="#ff8f8f" stroke-width="1"/>
<rect x="608.3" y="95.5" width="4.4" height="60.5" fill="#fff" stroke="#ff8f8f" stroke-width="1.1"/>
<line x1="617.5" y1="108.7" x2="617.5" y2="115.5" stroke="#2fd02f" stroke-width="1"/>
<line x1="616.3" y1="108.7" x2="618.7" y2="108.7" stroke="#2fd02f" stroke-width="1"/>
<rect x="615.3" y="115.5" width="4.4" height="40.5" fill="#fff" stroke="#2fd02f" stroke-width="1.1"/>
<line x1="624.5" y1="92" x2="624.5" y2="107.5" stroke="#6464ff" stroke-width="1"/>
<line x1="623.3" y1="92" x2="625.7" y2="92" stroke="#6464ff" stroke-width="1"/>
<rect x="622.3" y="107.5" width="4.4" height="48.5" fill="#fff" stroke="#6464ff" stroke-width="1.1"/>
<line x1="638" y1="51.7" x2="638" y2="66.7" stroke="#ff8f8f" stroke-width="1"/>
<line x1="636.8" y1="51.7" x2="639.2" y2="51.7" stroke="#ff8f8f" stroke-width="1"/>
<rect x="635.8" y="66.7" width="4.4" height="89.3" fill="#fff" stroke="#ff8f8f" stroke-width="1.1"/>
<line x1="645" y1="112.5" x2="645" y2="122.5" stroke="#2fd02f" stroke-width="1"/>
<line x1="643.8" y1="112.5" x2="646.2" y2="112.5" stroke="#2fd02f" stroke-width="1"/>
<rect x="642.8" y="122.5" width="4.4" height="33.5" fill="#fff" stroke="#2fd02f" stroke-width="1.1"/>
<line x1="652" y1="82.5" x2="652" y2="96.2" stroke="#6464ff" stroke-width="1"/>
<line x1="650.8" y1="82.5" x2="653.2" y2="82.5" stroke="#6464ff" stroke-width="1"/>
<rect x="649.8" y="96.2" width="4.4" height="59.8" fill="#fff" stroke="#6464ff" stroke-width="1.1"/>
<line x1="665.5" y1="75.7" x2="665.5" y2="92" stroke="#ff8f8f" stroke-width="1"/>
<line x1="664.3" y1="75.7" x2="666.7" y2="75.7" stroke="#ff8f8f" stroke-width="1"/>
<rect x="663.3" y="92" width="4.4" height="64" fill="#fff" stroke="#ff8f8f" stroke-width="1.1"/>
<line x1="672.5" y1="110.7" x2="672.5" y2="119.2" stroke="#2fd02f" stroke-width="1"/>
<line x1="671.3" y1="110.7" x2="673.7" y2="110.7" stroke="#2fd02f" stroke-width="1"/>
<rect x="670.3" y="119.2" width="4.4" height="36.8" fill="#fff" stroke="#2fd02f" stroke-width="1.1"/>
<line x1="679.5" y1="94.5" x2="679.5" y2="103.7" stroke="#6464ff" stroke-width="1"/>
<line x1="678.3" y1="94.5" x2="680.7" y2="94.5" stroke="#6464ff" stroke-width="1"/>
<rect x="677.3" y="103.7" width="4.4" height="52.3" fill="#fff" stroke="#6464ff" stroke-width="1.1"/>
<line x1="693" y1="117.5" x2="693" y2="125" stroke="#ff8f8f" stroke-width="1"/>
<line x1="691.8" y1="117.5" x2="694.2" y2="117.5" stroke="#ff8f8f" stroke-width="1"/>
<rect x="690.8" y="125" width="4.4" height="31" fill="#fff" stroke="#ff8f8f" stroke-width="1.1"/>
<line x1="700" y1="133" x2="700" y2="137.5" stroke="#2fd02f" stroke-width="1"/>
<line x1="698.8" y1="133" x2="701.2" y2="133" stroke="#2fd02f" stroke-width="1"/>
<rect x="697.8" y="137.5" width="4.4" height="18.5" fill="#fff" stroke="#2fd02f" stroke-width="1.1"/>
<line x1="707" y1="123.7" x2="707" y2="128.7" stroke="#6464ff" stroke-width="1"/>
<line x1="705.8" y1="123.7" x2="708.2" y2="123.7" stroke="#6464ff" stroke-width="1"/>
<rect x="704.8" y="128.7" width="4.4" height="27.3" fill="#fff" stroke="#6464ff" stroke-width="1.1"/>
<line x1="523.8" y1="29" x2="523.8" y2="156.6" stroke="#4a4a4a" stroke-width="1.5"/>
<line x1="519.2" y1="156" x2="714" y2="156" stroke="#4a4a4a" stroke-width="1.5"/>
<line x1="519.2" y1="29.5" x2="523.8" y2="29.5" stroke="#4a4a4a" stroke-width="0.9"/>
<text x="517.5" y="32.1" font-family="Liberation Sans" font-size="7.4" font-weight="normal" text-anchor="end" textLength="21" lengthAdjust="spacingAndGlyphs" fill="#111" stroke="#111" stroke-width="0.3">150000</text>
<line x1="521.8" y1="43.56" x2="523.8" y2="43.56" stroke="#4a4a4a" stroke-width="0.9"/>
<line x1="521.8" y1="57.61" x2="523.8" y2="57.61" stroke="#4a4a4a" stroke-width="0.9"/>
<line x1="519.2" y1="71.67" x2="523.8" y2="71.67" stroke="#4a4a4a" stroke-width="0.9"/>
<text x="517.5" y="74.27" font-family="Liberation Sans" font-size="7.4" font-weight="normal" text-anchor="end" textLength="21" lengthAdjust="spacingAndGlyphs" fill="#111" stroke="#111" stroke-width="0.3">100000</text>
<line x1="521.8" y1="85.72" x2="523.8" y2="85.72" stroke="#4a4a4a" stroke-width="0.9"/>
<line x1="521.8" y1="99.78" x2="523.8" y2="99.78" stroke="#4a4a4a" stroke-width="0.9"/>
<line x1="519.2" y1="113.83" x2="523.8" y2="113.83" stroke="#4a4a4a" stroke-width="0.9"/>
<text x="517.5" y="116.43" font-family="Liberation Sans" font-size="7.4" font-weight="normal" text-anchor="end" textLength="17.5" lengthAdjust="spacingAndGlyphs" fill="#111" stroke="#111" stroke-width="0.3">50000</text>
<line x1="521.8" y1="127.89" x2="523.8" y2="127.89" stroke="#4a4a4a" stroke-width="0.9"/>
<line x1="521.8" y1="141.94" x2="523.8" y2="141.94" stroke="#4a4a4a" stroke-width="0.9"/>
<line x1="519.2" y1="156" x2="523.8" y2="156" stroke="#4a4a4a" stroke-width="0.9"/>
<text x="517.5" y="158.6" font-family="Liberation Sans" font-size="7.4" font-weight="normal" text-anchor="end" textLength="3.5" lengthAdjust="spacingAndGlyphs" fill="#111" stroke="#111" stroke-width="0.3">0</text>
<line x1="535" y1="156" x2="535" y2="161" stroke="#4a4a4a" stroke-width="1"/>
<text x="535" y="169.3" font-family="Liberation Sans" font-size="7" font-weight="bold" text-anchor="middle" textLength="11.8" lengthAdjust="spacingAndGlyphs" fill="#111" stroke="#111" stroke-width="0.15">CTX</text>
<line x1="562.5" y1="156" x2="562.5" y2="161" stroke="#4a4a4a" stroke-width="1"/>
<text x="562.5" y="169.3" font-family="Liberation Sans" font-size="7" font-weight="bold" text-anchor="middle" textLength="7.6" lengthAdjust="spacingAndGlyphs" fill="#111" stroke="#111" stroke-width="0.15">HP</text>
<line x1="590" y1="156" x2="590" y2="161" stroke="#4a4a4a" stroke-width="1"/>
<text x="590" y="169.3" font-family="Liberation Sans" font-size="7" font-weight="bold" text-anchor="middle" textLength="7" lengthAdjust="spacingAndGlyphs" fill="#111" stroke="#111" stroke-width="0.15">FT</text>
<line x1="617.5" y1="156" x2="617.5" y2="161" stroke="#4a4a4a" stroke-width="1"/>
<text x="617.5" y="169.3" font-family="Liberation Sans" font-size="7" font-weight="bold" text-anchor="middle" textLength="12.2" lengthAdjust="spacingAndGlyphs" fill="#111" stroke="#111" stroke-width="0.15">CBC</text>
<line x1="645" y1="156" x2="645" y2="161" stroke="#4a4a4a" stroke-width="1"/>
<text x="645" y="169.3" font-family="Liberation Sans" font-size="7" font-weight="bold" text-anchor="middle" textLength="7.8" lengthAdjust="spacingAndGlyphs" fill="#111" stroke="#111" stroke-width="0.15">CP</text>
<line x1="672.5" y1="156" x2="672.5" y2="161" stroke="#4a4a4a" stroke-width="1"/>
<text x="672.5" y="169.3" font-family="Liberation Sans" font-size="7" font-weight="bold" text-anchor="middle" textLength="7.8" lengthAdjust="spacingAndGlyphs" fill="#111" stroke="#111" stroke-width="0.15">HY</text>
<line x1="700" y1="156" x2="700" y2="161" stroke="#4a4a4a" stroke-width="1"/>
<text x="700" y="169.3" font-family="Liberation Sans" font-size="7" font-weight="bold" text-anchor="middle" textLength="7.4" lengthAdjust="spacingAndGlyphs" fill="#111" stroke="#111" stroke-width="0.15">TH</text>
<path d="M528.7 90.1V87.5H535.7V90.1" fill="none" stroke="#111" stroke-width="0.8"/>
<text x="532.2" y="86.9" font-family="Liberation Sans" font-size="8" font-weight="bold" text-anchor="middle" textLength="7.6" lengthAdjust="spacingAndGlyphs" fill="#111">**</text>
<path d="M536.2 119.3V116.7H543.7V119.3" fill="none" stroke="#111" stroke-width="0.8"/>
<text x="539.95" y="114.3" font-family="Liberation Sans" font-size="4.6" font-weight="bold" text-anchor="middle" textLength="7.6" lengthAdjust="spacingAndGlyphs" fill="#222"># #</text>
<path d="M555 74.3V71.7H562.5V74.3" fill="none" stroke="#111" stroke-width="0.8"/>
<text x="558.75" y="71.1" font-family="Liberation Sans" font-size="8" font-weight="bold" text-anchor="middle" textLength="7.6" lengthAdjust="spacingAndGlyphs" fill="#111">**</text>
<path d="M562.5 105.6V103H570V105.6" fill="none" stroke="#111" stroke-width="0.8"/>
<text x="566.25" y="100.6" font-family="Liberation Sans" font-size="4.6" font-weight="bold" text-anchor="middle" textLength="7.6" lengthAdjust="spacingAndGlyphs" fill="#222"># #</text>
<path d="M582.5 80.1V77.5H590V80.1" fill="none" stroke="#111" stroke-width="0.8"/>
<text x="586.25" y="76.9" font-family="Liberation Sans" font-size="8" font-weight="bold" text-anchor="middle" textLength="7.6" lengthAdjust="spacingAndGlyphs" fill="#111">**</text>
<path d="M590.7 78.8V76.2H598.2V78.8" fill="none" stroke="#111" stroke-width="0.8"/>
<text x="594.45" y="73.8" font-family="Liberation Sans" font-size="4.6" font-weight="bold" text-anchor="middle" textLength="7.6" lengthAdjust="spacingAndGlyphs" fill="#222"># #</text>
<path d="M610.7 79.6V77H618.2V79.6" fill="none" stroke="#111" stroke-width="0.8"/>
<text x="614.45" y="76.4" font-family="Liberation Sans" font-size="8" font-weight="bold" text-anchor="middle" textLength="3.2" lengthAdjust="spacingAndGlyphs" fill="#111">*</text>
<path d="M618 90.1V87.5H625V90.1" fill="none" stroke="#111" stroke-width="0.8"/>
<text x="621.5" y="85.1" font-family="Liberation Sans" font-size="4.6" font-weight="bold" text-anchor="middle" textLength="2.8" lengthAdjust="spacingAndGlyphs" fill="#222">#</text>
<path d="M637.5 49.6V47H645V49.6" fill="none" stroke="#111" stroke-width="0.8"/>
<text x="641.25" y="46.4" font-family="Liberation Sans" font-size="8" font-weight="bold" text-anchor="middle" textLength="7.6" lengthAdjust="spacingAndGlyphs" fill="#111">**</text>
<path d="M645.5 80.6V78H653V80.6" fill="none" stroke="#111" stroke-width="0.8"/>
<text x="649.25" y="75.6" font-family="Liberation Sans" font-size="4.6" font-weight="bold" text-anchor="middle" textLength="7.6" lengthAdjust="spacingAndGlyphs" fill="#222"># #</text>
<path d="M665.7 73.8V71.2H673.2V73.8" fill="none" stroke="#111" stroke-width="0.8"/>
<text x="669.45" y="70.6" font-family="Liberation Sans" font-size="8" font-weight="bold" text-anchor="middle" textLength="7.6" lengthAdjust="spacingAndGlyphs" fill="#111">**</text>
<path d="M673.7 91.8V89.2H680.7V91.8" fill="none" stroke="#111" stroke-width="0.8"/>
<text x="677.2" y="86.8" font-family="Liberation Sans" font-size="4.6" font-weight="bold" text-anchor="middle" textLength="2.8" lengthAdjust="spacingAndGlyphs" fill="#222">#</text>
<path d="M692.5 114.3V111.7H700V114.3" fill="none" stroke="#111" stroke-width="0.8"/>
<text x="696.25" y="111.1" font-family="Liberation Sans" font-size="8" font-weight="bold" text-anchor="middle" textLength="3.2" lengthAdjust="spacingAndGlyphs" fill="#111">*</text>
<path d="M701.2 122.6V120H708.2V122.6" fill="none" stroke="#111" stroke-width="0.8"/>
<text x="704.7" y="117.6" font-family="Liberation Sans" font-size="4.6" font-weight="bold" text-anchor="middle" textLength="2.8" lengthAdjust="spacingAndGlyphs" fill="#222">#</text>
<text x="619.45" y="14.6" font-family="Liberation Serif" font-size="11.5" font-weight="bold" text-anchor="middle" textLength="33.9" lengthAdjust="spacingAndGlyphs">Taurine</text>
<text transform="translate(490.6 93.45) rotate(-90)" font-family="Liberation Serif" font-weight="bold" font-size="8" stroke="#000" stroke-width="0.15" text-anchor="middle" textLength="58.2" lengthAdjust="spacingAndGlyphs">Relative Intensity</text>
<line x1="528" y1="314.2" x2="528" y2="328" stroke="#ff8f8f" stroke-width="1"/>
<line x1="526.8" y1="314.2" x2="529.2" y2="314.2" stroke="#ff8f8f" stroke-width="1"/>
<rect x="525.8" y="328" width="4.4" height="7.3" fill="#fff" stroke="#ff8f8f" stroke-width="1.1"/>
<line x1="535" y1="241.7" x2="535" y2="265" stroke="#2fd02f" stroke-width="1"/>
<line x1="533.8" y1="241.7" x2="536.2" y2="241.7" stroke="#2fd02f" stroke-width="1"/>
<rect x="532.8" y="265" width="4.4" height="70.3" fill="#fff" stroke="#2fd02f" stroke-width="1.1"/>
<line x1="542" y1="288.7" x2="542" y2="303.7" stroke="#6464ff" stroke-width="1"/>
<line x1="540.8" y1="288.7" x2="543.2" y2="288.7" stroke="#6464ff" stroke-width="1"/>
<rect x="539.8" y="303.7" width="4.4" height="31.6" fill="#fff" stroke="#6464ff" stroke-width="1.1"/>
<line x1="555.5" y1="271.2" x2="555.5" y2="290" stroke="#ff8f8f" stroke-width="1"/>
<line x1="554.3" y1="271.2" x2="556.7" y2="271.2" stroke="#ff8f8f" stroke-width="1"/>
<rect x="553.3" y="290" width="4.4" height="45.3" fill="#fff" stroke="#ff8f8f" stroke-width="1.1"/>
<line x1="562.5" y1="239.2" x2="562.5" y2="247" stroke="#2fd02f" stroke-width="1"/>
<line x1="561.3" y1="239.2" x2="563.7" y2="239.2" stroke="#2fd02f" stroke-width="1"/>
<rect x="560.3" y="247" width="4.4" height="88.3" fill="#fff" stroke="#2fd02f" stroke-width="1.1"/>
<line x1="569.5" y1="270.7" x2="569.5" y2="278.7" stroke="#6464ff" stroke-width="1"/>
<line x1="568.3" y1="270.7" x2="570.7" y2="270.7" stroke="#6464ff" stroke-width="1"/>
<rect x="567.3" y="278.7" width="4.4" height="56.6" fill="#fff" stroke="#6464ff" stroke-width="1.1"/>
<line x1="583" y1="309.5" x2="583" y2="315.7" stroke="#ff8f8f" stroke-width="1"/>
<line x1="581.8" y1="309.5" x2="584.2" y2="309.5" stroke="#ff8f8f" stroke-width="1"/>
<rect x="580.8" y="315.7" width="4.4" height="19.6" fill="#fff" stroke="#ff8f8f" stroke-width="1.1"/>
<line x1="590" y1="320.5" x2="590" y2="327.5" stroke="#2fd02f" stroke-width="1"/>
<line x1="588.8" y1="320.5" x2="591.2" y2="320.5" stroke="#2fd02f" stroke-width="1"/>
<rect x="587.8" y="327.5" width="4.4" height="7.8" fill="#fff" stroke="#2fd02f" stroke-width="1.1"/>
<line x1="597" y1="309.5" x2="597" y2="326.2" stroke="#6464ff" stroke-width="1"/>
<line x1="595.8" y1="309.5" x2="598.2" y2="309.5" stroke="#6464ff" stroke-width="1"/>
<rect x="594.8" y="326.2" width="4.4" height="9.1" fill="#fff" stroke="#6464ff" stroke-width="1.1"/>
<line x1="610.5" y1="243.2" x2="610.5" y2="277.5" stroke="#ff8f8f" stroke-width="1"/>
<line x1="609.3" y1="243.2" x2="611.7" y2="243.2" stroke="#ff8f8f" stroke-width="1"/>
<rect x="608.3" y="277.5" width="4.4" height="57.8" fill="#fff" stroke="#ff8f8f" stroke-width="1.1"/>
<line x1="617.5" y1="218.7" x2="617.5" y2="240.7" stroke="#2fd02f" stroke-width="1"/>
<line x1="616.3" y1="218.7" x2="618.7" y2="218.7" stroke="#2fd02f" stroke-width="1"/>
<rect x="615.3" y="240.7" width="4.4" height="94.6" fill="#fff" stroke="#2fd02f" stroke-width="1.1"/>
<line x1="624.5" y1="229.5" x2="624.5" y2="259.2" stroke="#6464ff" stroke-width="1"/>
<line x1="623.3" y1="229.5" x2="625.7" y2="229.5" stroke="#6464ff" stroke-width="1"/>
<rect x="622.3" y="259.2" width="4.4" height="76.1" fill="#fff" stroke="#6464ff" stroke-width="1.1"/>
<line x1="638" y1="270.7" x2="638" y2="279.2" stroke="#ff8f8f" stroke-width="1"/>
<line x1="636.8" y1="270.7" x2="639.2" y2="270.7" stroke="#ff8f8f" stroke-width="1"/>
<rect x="635.8" y="279.2" width="4.4" height="56.1" fill="#fff" stroke="#ff8f8f" stroke-width="1.1"/>
<line x1="645" y1="305" x2="645" y2="315" stroke="#2fd02f" stroke-width="1"/>
<line x1="643.8" y1="305" x2="646.2" y2="305" stroke="#2fd02f" stroke-width="1"/>
<rect x="642.8" y="315" width="4.4" height="20.3" fill="#fff" stroke="#2fd02f" stroke-width="1.1"/>
<line x1="652" y1="295" x2="652" y2="308" stroke="#6464ff" stroke-width="1"/>
<line x1="650.8" y1="295" x2="653.2" y2="295" stroke="#6464ff" stroke-width="1"/>
<rect x="649.8" y="308" width="4.4" height="27.3" fill="#fff" stroke="#6464ff" stroke-width="1.1"/>
<line x1="665.5" y1="260" x2="665.5" y2="283.2" stroke="#ff8f8f" stroke-width="1"/>
<line x1="664.3" y1="260" x2="666.7" y2="260" stroke="#ff8f8f" stroke-width="1"/>
<rect x="663.3" y="283.2" width="4.4" height="52.1" fill="#fff" stroke="#ff8f8f" stroke-width="1.1"/>
<line x1="672.5" y1="299.5" x2="672.5" y2="312.5" stroke="#2fd02f" stroke-width="1"/>
<line x1="671.3" y1="299.5" x2="673.7" y2="299.5" stroke="#2fd02f" stroke-width="1"/>
<rect x="670.3" y="312.5" width="4.4" height="22.8" fill="#fff" stroke="#2fd02f" stroke-width="1.1"/>
<line x1="679.5" y1="309.5" x2="679.5" y2="318" stroke="#6464ff" stroke-width="1"/>
<line x1="678.3" y1="309.5" x2="680.7" y2="309.5" stroke="#6464ff" stroke-width="1"/>
<rect x="677.3" y="318" width="4.4" height="17.3" fill="#fff" stroke="#6464ff" stroke-width="1.1"/>
<line x1="693" y1="283.2" x2="693" y2="303.7" stroke="#ff8f8f" stroke-width="1"/>
<line x1="691.8" y1="283.2" x2="694.2" y2="283.2" stroke="#ff8f8f" stroke-width="1"/>
<rect x="690.8" y="303.7" width="4.4" height="31.6" fill="#fff" stroke="#ff8f8f" stroke-width="1.1"/>
<line x1="700" y1="236.2" x2="700" y2="251.7" stroke="#2fd02f" stroke-width="1"/>
<line x1="698.8" y1="236.2" x2="701.2" y2="236.2" stroke="#2fd02f" stroke-width="1"/>
<rect x="697.8" y="251.7" width="4.4" height="83.6" fill="#fff" stroke="#2fd02f" stroke-width="1.1"/>
<line x1="707" y1="253" x2="707" y2="271.2" stroke="#6464ff" stroke-width="1"/>
<line x1="705.8" y1="253" x2="708.2" y2="253" stroke="#6464ff" stroke-width="1"/>
<rect x="704.8" y="271.2" width="4.4" height="64.1" fill="#fff" stroke="#6464ff" stroke-width="1.1"/>
<line x1="524" y1="208.5" x2="524" y2="335.9" stroke="#4a4a4a" stroke-width="1.5"/>
<line x1="519.4" y1="335.3" x2="714" y2="335.3" stroke="#4a4a4a" stroke-width="1.5"/>
<line x1="519.4" y1="209" x2="524" y2="209" stroke="#4a4a4a" stroke-width="0.9"/>
<text x="517.7" y="211.6" font-family="Liberation Sans" font-size="7.4" font-weight="normal" text-anchor="end" textLength="21" lengthAdjust="spacingAndGlyphs" fill="#111" stroke="#111" stroke-width="0.3">200000</text>
<line x1="522" y1="230.05" x2="524" y2="230.05" stroke="#4a4a4a" stroke-width="0.9"/>
<line x1="522" y1="251.1" x2="524" y2="251.1" stroke="#4a4a4a" stroke-width="0.9"/>
<line x1="519.4" y1="272.15" x2="524" y2="272.15" stroke="#4a4a4a" stroke-width="0.9"/>
<text x="517.7" y="274.75" font-family="Liberation Sans" font-size="7.4" font-weight="normal" text-anchor="end" textLength="21" lengthAdjust="spacingAndGlyphs" fill="#111" stroke="#111" stroke-width="0.3">100000</text>
<line x1="522" y1="293.2" x2="524" y2="293.2" stroke="#4a4a4a" stroke-width="0.9"/>
<line x1="522" y1="314.25" x2="524" y2="314.25" stroke="#4a4a4a" stroke-width="0.9"/>
<line x1="519.4" y1="335.3" x2="524" y2="335.3" stroke="#4a4a4a" stroke-width="0.9"/>
<text x="517.7" y="337.9" font-family="Liberation Sans" font-size="7.4" font-weight="normal" text-anchor="end" textLength="3.5" lengthAdjust="spacingAndGlyphs" fill="#111" stroke="#111" stroke-width="0.3">0</text>
<line x1="535" y1="335.3" x2="535" y2="340.3" stroke="#4a4a4a" stroke-width="1"/>
<text x="535" y="348.6" font-family="Liberation Sans" font-size="7" font-weight="bold" text-anchor="middle" textLength="11.8" lengthAdjust="spacingAndGlyphs" fill="#111" stroke="#111" stroke-width="0.15">CTX</text>
<line x1="562.5" y1="335.3" x2="562.5" y2="340.3" stroke="#4a4a4a" stroke-width="1"/>
<text x="562.5" y="348.6" font-family="Liberation Sans" font-size="7" font-weight="bold" text-anchor="middle" textLength="7.6" lengthAdjust="spacingAndGlyphs" fill="#111" stroke="#111" stroke-width="0.15">HP</text>
<line x1="590" y1="335.3" x2="590" y2="340.3" stroke="#4a4a4a" stroke-width="1"/>
<text x="590" y="348.6" font-family="Liberation Sans" font-size="7" font-weight="bold" text-anchor="middle" textLength="7" lengthAdjust="spacingAndGlyphs" fill="#111" stroke="#111" stroke-width="0.15">FT</text>
<line x1="617.5" y1="335.3" x2="617.5" y2="340.3" stroke="#4a4a4a" stroke-width="1"/>
<text x="617.5" y="348.6" font-family="Liberation Sans" font-size="7" font-weight="bold" text-anchor="middle" textLength="12.2" lengthAdjust="spacingAndGlyphs" fill="#111" stroke="#111" stroke-width="0.15">CBC</text>
<line x1="645" y1="335.3" x2="645" y2="340.3" stroke="#4a4a4a" stroke-width="1"/>
<text x="645" y="348.6" font-family="Liberation Sans" font-size="7" font-weight="bold" text-anchor="middle" textLength="7.8" lengthAdjust="spacingAndGlyphs" fill="#111" stroke="#111" stroke-width="0.15">CP</text>
<line x1="672.5" y1="335.3" x2="672.5" y2="340.3" stroke="#4a4a4a" stroke-width="1"/>
<text x="672.5" y="348.6" font-family="Liberation Sans" font-size="7" font-weight="bold" text-anchor="middle" textLength="7.8" lengthAdjust="spacingAndGlyphs" fill="#111" stroke="#111" stroke-width="0.15">HY</text>
<line x1="700" y1="335.3" x2="700" y2="340.3" stroke="#4a4a4a" stroke-width="1"/>
<text x="700" y="348.6" font-family="Liberation Sans" font-size="7" font-weight="bold" text-anchor="middle" textLength="7.4" lengthAdjust="spacingAndGlyphs" fill="#111" stroke="#111" stroke-width="0.15">TH</text>
<path d="M528.7 237.1V234.5H535.7V237.1" fill="none" stroke="#111" stroke-width="0.8"/>
<text x="532.2" y="233.9" font-family="Liberation Sans" font-size="8" font-weight="bold" text-anchor="middle" textLength="7.6" lengthAdjust="spacingAndGlyphs" fill="#111">**</text>
<path d="M538.2 246.3V243.7H545.7V246.3" fill="none" stroke="#111" stroke-width="0.8"/>
<text x="541.95" y="241.3" font-family="Liberation Sans" font-size="4.6" font-weight="bold" text-anchor="middle" textLength="7.6" lengthAdjust="spacingAndGlyphs" fill="#222"># #</text>
<path d="M555 235.6V233H562.5V235.6" fill="none" stroke="#111" stroke-width="0.8"/>
<text x="558.75" y="232.4" font-family="Liberation Sans" font-size="8" font-weight="bold" text-anchor="middle" textLength="7.6" lengthAdjust="spacingAndGlyphs" fill="#111">**</text>
<path d="M564.2 235.6V233H571.7V235.6" fill="none" stroke="#111" stroke-width="0.8"/>
<text x="567.95" y="230.6" font-family="Liberation Sans" font-size="4.6" font-weight="bold" text-anchor="middle" textLength="7.6" lengthAdjust="spacingAndGlyphs" fill="#222"># #</text>
<path d="M583.2 305.1V302.5H590.7V305.1" fill="none" stroke="#111" stroke-width="0.8"/>
<text x="586.95" y="301.9" font-family="Liberation Sans" font-size="8" font-weight="bold" text-anchor="middle" textLength="3.2" lengthAdjust="spacingAndGlyphs" fill="#111">*</text>
<path d="M610.7 216.3V213.7H618.2V216.3" fill="none" stroke="#111" stroke-width="0.8"/>
<text x="614.45" y="213.1" font-family="Liberation Sans" font-size="8" font-weight="bold" text-anchor="middle" textLength="3.2" lengthAdjust="spacingAndGlyphs" fill="#111">*</text>
<path d="M619.5 225.8V223.2H626.7V225.8" fill="none" stroke="#111" stroke-width="0.8"/>
<text x="623.1" y="220.8" font-family="Liberation Sans" font-size="4.6" font-weight="bold" text-anchor="middle" textLength="2.8" lengthAdjust="spacingAndGlyphs" fill="#222">#</text>
<path d="M638.2 267.6V265H645.7V267.6" fill="none" stroke="#111" stroke-width="0.8"/>
<text x="641.95" y="264.4" font-family="Liberation Sans" font-size="8" font-weight="bold" text-anchor="middle" textLength="7.6" lengthAdjust="spacingAndGlyphs" fill="#111">**</text>
<path d="M645.5 291.3V288.7H652.5V291.3" fill="none" stroke="#111" stroke-width="0.8"/>
<text x="649" y="286.3" font-family="Liberation Sans" font-size="4.6" font-weight="bold" text-anchor="middle" textLength="2.8" lengthAdjust="spacingAndGlyphs" fill="#222">#</text>
<path d="M665.7 256.3V253.7H673.2V256.3" fill="none" stroke="#111" stroke-width="0.8"/>
<text x="669.45" y="253.1" font-family="Liberation Sans" font-size="8" font-weight="bold" text-anchor="middle" textLength="7.6" lengthAdjust="spacingAndGlyphs" fill="#111">**</text>
<path d="M693.2 233.1V230.5H700.7V233.1" fill="none" stroke="#111" stroke-width="0.8"/>
<text x="696.95" y="229.9" font-family="Liberation Sans" font-size="8" font-weight="bold" text-anchor="middle" textLength="7.6" lengthAdjust="spacingAndGlyphs" fill="#111">**</text>
<path d="M701.7 247.1V244.5H709.2V247.1" fill="none" stroke="#111" stroke-width="0.8"/>
<text x="705.45" y="242.1" font-family="Liberation Sans" font-size="4.6" font-weight="bold" text-anchor="middle" textLength="7.6" lengthAdjust="spacingAndGlyphs" fill="#222"># #</text>
<text x="618.6" y="194" font-family="Liberation Serif" font-size="11.5" font-weight="bold" text-anchor="middle" textLength="62.8" lengthAdjust="spacingAndGlyphs">Glutamic acid</text>
<text transform="translate(490.6 272.85) rotate(-90)" font-family="Liberation Serif" font-weight="bold" font-size="8" stroke="#000" stroke-width="0.15" text-anchor="middle" textLength="58.2" lengthAdjust="spacingAndGlyphs">Relative Intensity</text>
<line x1="527" y1="417" x2="527" y2="453" stroke="#ff8f8f" stroke-width="1"/>
<line x1="525.8" y1="417" x2="528.2" y2="417" stroke="#ff8f8f" stroke-width="1"/>
<rect x="524.8" y="453" width="4.4" height="62.5" fill="#fff" stroke="#ff8f8f" stroke-width="1.1"/>
<line x1="534" y1="500" x2="534" y2="509.2" stroke="#2fd02f" stroke-width="1"/>
<line x1="532.8" y1="500" x2="535.2" y2="500" stroke="#2fd02f" stroke-width="1"/>
<rect x="531.8" y="509.2" width="4.4" height="6.3" fill="#fff" stroke="#2fd02f" stroke-width="1.1"/>
<line x1="541" y1="490" x2="541" y2="505.5" stroke="#6464ff" stroke-width="1"/>
<line x1="539.8" y1="490" x2="542.2" y2="490" stroke="#6464ff" stroke-width="1"/>
<rect x="538.8" y="505.5" width="4.4" height="10" fill="#fff" stroke="#6464ff" stroke-width="1.1"/>
<line x1="554.4" y1="474.2" x2="554.4" y2="501.7" stroke="#ff8f8f" stroke-width="1"/>
<line x1="553.2" y1="474.2" x2="555.6" y2="474.2" stroke="#ff8f8f" stroke-width="1"/>
<rect x="552.2" y="501.7" width="4.4" height="13.8" fill="#fff" stroke="#ff8f8f" stroke-width="1.1"/>
<line x1="561.4" y1="506.2" x2="561.4" y2="512.5" stroke="#2fd02f" stroke-width="1"/>
<line x1="560.2" y1="506.2" x2="562.6" y2="506.2" stroke="#2fd02f" stroke-width="1"/>
<rect x="559.2" y="512.5" width="4.4" height="3" fill="#fff" stroke="#2fd02f" stroke-width="1.1"/>
<line x1="568.4" y1="499.2" x2="568.4" y2="510.7" stroke="#6464ff" stroke-width="1"/>
<line x1="567.2" y1="499.2" x2="569.6" y2="499.2" stroke="#6464ff" stroke-width="1"/>
<rect x="566.2" y="510.7" width="4.4" height="4.8" fill="#fff" stroke="#6464ff" stroke-width="1.1"/>
<line x1="581.8" y1="473.7" x2="581.8" y2="498.7" stroke="#ff8f8f" stroke-width="1"/>
<line x1="580.6" y1="473.7" x2="583" y2="473.7" stroke="#ff8f8f" stroke-width="1"/>
<rect x="579.6" y="498.7" width="4.4" height="16.8" fill="#fff" stroke="#ff8f8f" stroke-width="1.1"/>
<line x1="588.8" y1="511.2" x2="588.8" y2="513.7" stroke="#2fd02f" stroke-width="1"/>
<line x1="587.6" y1="511.2" x2="590" y2="511.2" stroke="#2fd02f" stroke-width="1"/>
<rect x="586.6" y="513.7" width="4.4" height="1.8" fill="#fff" stroke="#2fd02f" stroke-width="1.1"/>
<line x1="595.8" y1="488.7" x2="595.8" y2="507.5" stroke="#6464ff" stroke-width="1"/>
<line x1="594.6" y1="488.7" x2="597" y2="488.7" stroke="#6464ff" stroke-width="1"/>
<rect x="593.6" y="507.5" width="4.4" height="8" fill="#fff" stroke="#6464ff" stroke-width="1.1"/>
<line x1="609.2" y1="495" x2="609.2" y2="505" stroke="#ff8f8f" stroke-width="1"/>
<line x1="608" y1="495" x2="610.4" y2="495" stroke="#ff8f8f" stroke-width="1"/>
<rect x="607" y="505" width="4.4" height="10.5" fill="#fff" stroke="#ff8f8f" stroke-width="1.1"/>
<line x1="616.2" y1="511.2" x2="616.2" y2="513.7" stroke="#2fd02f" stroke-width="1"/>
<line x1="615" y1="511.2" x2="617.4" y2="511.2" stroke="#2fd02f" stroke-width="1"/>
<rect x="614" y="513.7" width="4.4" height="1.8" fill="#fff" stroke="#2fd02f" stroke-width="1.1"/>
<line x1="623.2" y1="505.7" x2="623.2" y2="512.5" stroke="#6464ff" stroke-width="1"/>
<line x1="622" y1="505.7" x2="624.4" y2="505.7" stroke="#6464ff" stroke-width="1"/>
<rect x="621" y="512.5" width="4.4" height="3" fill="#fff" stroke="#6464ff" stroke-width="1.1"/>
<line x1="636.6" y1="450" x2="636.6" y2="469.2" stroke="#ff8f8f" stroke-width="1"/>
<line x1="635.4" y1="450" x2="637.8" y2="450" stroke="#ff8f8f" stroke-width="1"/>
<rect x="634.4" y="469.2" width="4.4" height="46.3" fill="#fff" stroke="#ff8f8f" stroke-width="1.1"/>
<line x1="643.6" y1="487" x2="643.6" y2="503" stroke="#2fd02f" stroke-width="1"/>
<line x1="642.4" y1="487" x2="644.8" y2="487" stroke="#2fd02f" stroke-width="1"/>
<rect x="641.4" y="503" width="4.4" height="12.5" fill="#fff" stroke="#2fd02f" stroke-width="1.1"/>
<line x1="650.6" y1="462.5" x2="650.6" y2="487.5" stroke="#6464ff" stroke-width="1"/>
<line x1="649.4" y1="462.5" x2="651.8" y2="462.5" stroke="#6464ff" stroke-width="1"/>
<rect x="648.4" y="487.5" width="4.4" height="28" fill="#fff" stroke="#6464ff" stroke-width="1.1"/>
<line x1="664" y1="416.2" x2="664" y2="464.5" stroke="#ff8f8f" stroke-width="1"/>
<line x1="662.8" y1="416.2" x2="665.2" y2="416.2" stroke="#ff8f8f" stroke-width="1"/>
<rect x="661.8" y="464.5" width="4.4" height="51" fill="#fff" stroke="#ff8f8f" stroke-width="1.1"/>
<line x1="671" y1="497" x2="671" y2="506.2" stroke="#2fd02f" stroke-width="1"/>
<line x1="669.8" y1="497" x2="672.2" y2="497" stroke="#2fd02f" stroke-width="1"/>
<rect x="668.8" y="506.2" width="4.4" height="9.3" fill="#fff" stroke="#2fd02f" stroke-width="1.1"/>
<line x1="678" y1="462.5" x2="678" y2="492.5" stroke="#6464ff" stroke-width="1"/>
<line x1="676.8" y1="462.5" x2="679.2" y2="462.5" stroke="#6464ff" stroke-width="1"/>
<rect x="675.8" y="492.5" width="4.4" height="23" fill="#fff" stroke="#6464ff" stroke-width="1.1"/>
<line x1="691.4" y1="434.2" x2="691.4" y2="486.2" stroke="#ff8f8f" stroke-width="1"/>
<line x1="690.2" y1="434.2" x2="692.6" y2="434.2" stroke="#ff8f8f" stroke-width="1"/>
<rect x="689.2" y="486.2" width="4.4" height="29.3" fill="#fff" stroke="#ff8f8f" stroke-width="1.1"/>
<line x1="698.4" y1="487" x2="698.4" y2="506.7" stroke="#2fd02f" stroke-width="1"/>
<line x1="697.2" y1="487" x2="699.6" y2="487" stroke="#2fd02f" stroke-width="1"/>
<rect x="696.2" y="506.7" width="4.4" height="8.8" fill="#fff" stroke="#2fd02f" stroke-width="1.1"/>
<line x1="705.4" y1="458.7" x2="705.4" y2="497" stroke="#6464ff" stroke-width="1"/>
<line x1="704.2" y1="458.7" x2="706.6" y2="458.7" stroke="#6464ff" stroke-width="1"/>
<rect x="703.2" y="497" width="4.4" height="18.5" fill="#fff" stroke="#6464ff" stroke-width="1.1"/>
<line x1="522.8" y1="388.7" x2="522.8" y2="516.1" stroke="#4a4a4a" stroke-width="1.1"/>
<line x1="518.2" y1="515.5" x2="712.5" y2="515.5" stroke="#4a4a4a" stroke-width="1.5"/>
<line x1="518.2" y1="389.2" x2="522.8" y2="389.2" stroke="#4a4a4a" stroke-width="0.9"/>
<text x="516.5" y="391.8" font-family="Liberation Sans" font-size="7.4" font-weight="normal" text-anchor="end" textLength="21" lengthAdjust="spacingAndGlyphs" fill="#111" stroke="#111" stroke-width="0.3">500000</text>
<line x1="520.8" y1="410.25" x2="522.8" y2="410.25" stroke="#4a4a4a" stroke-width="0.9"/>
<line x1="520.8" y1="431.3" x2="522.8" y2="431.3" stroke="#4a4a4a" stroke-width="0.9"/>
<line x1="518.2" y1="452.35" x2="522.8" y2="452.35" stroke="#4a4a4a" stroke-width="0.9"/>
<text x="516.5" y="454.95" font-family="Liberation Sans" font-size="7.4" font-weight="normal" text-anchor="end" textLength="21" lengthAdjust="spacingAndGlyphs" fill="#111" stroke="#111" stroke-width="0.3">250000</text>
<line x1="520.8" y1="473.4" x2="522.8" y2="473.4" stroke="#4a4a4a" stroke-width="0.9"/>
<line x1="520.8" y1="494.45" x2="522.8" y2="494.45" stroke="#4a4a4a" stroke-width="0.9"/>
<line x1="518.2" y1="515.5" x2="522.8" y2="515.5" stroke="#4a4a4a" stroke-width="0.9"/>
<text x="516.5" y="518.1" font-family="Liberation Sans" font-size="7.4" font-weight="normal" text-anchor="end" textLength="3.5" lengthAdjust="spacingAndGlyphs" fill="#111" stroke="#111" stroke-width="0.3">0</text>
<line x1="534" y1="515.5" x2="534" y2="520.5" stroke="#4a4a4a" stroke-width="1"/>
<text x="534" y="528.8" font-family="Liberation Sans" font-size="7" font-weight="bold" text-anchor="middle" textLength="11.8" lengthAdjust="spacingAndGlyphs" fill="#111" stroke="#111" stroke-width="0.15">CTX</text>
<line x1="561.4" y1="515.5" x2="561.4" y2="520.5" stroke="#4a4a4a" stroke-width="1"/>
<text x="561.4" y="528.8" font-family="Liberation Sans" font-size="7" font-weight="bold" text-anchor="middle" textLength="7.6" lengthAdjust="spacingAndGlyphs" fill="#111" stroke="#111" stroke-width="0.15">HP</text>
<line x1="588.8" y1="515.5" x2="588.8" y2="520.5" stroke="#4a4a4a" stroke-width="1"/>
<text x="588.8" y="528.8" font-family="Liberation Sans" font-size="7" font-weight="bold" text-anchor="middle" textLength="7" lengthAdjust="spacingAndGlyphs" fill="#111" stroke="#111" stroke-width="0.15">FT</text>
<line x1="616.2" y1="515.5" x2="616.2" y2="520.5" stroke="#4a4a4a" stroke-width="1"/>
<text x="616.2" y="528.8" font-family="Liberation Sans" font-size="7" font-weight="bold" text-anchor="middle" textLength="12.2" lengthAdjust="spacingAndGlyphs" fill="#111" stroke="#111" stroke-width="0.15">CBC</text>
<line x1="643.6" y1="515.5" x2="643.6" y2="520.5" stroke="#4a4a4a" stroke-width="1"/>
<text x="643.6" y="528.8" font-family="Liberation Sans" font-size="7" font-weight="bold" text-anchor="middle" textLength="7.8" lengthAdjust="spacingAndGlyphs" fill="#111" stroke="#111" stroke-width="0.15">CP</text>
<line x1="671" y1="515.5" x2="671" y2="520.5" stroke="#4a4a4a" stroke-width="1"/>
<text x="671" y="528.8" font-family="Liberation Sans" font-size="7" font-weight="bold" text-anchor="middle" textLength="7.8" lengthAdjust="spacingAndGlyphs" fill="#111" stroke="#111" stroke-width="0.15">HY</text>
<line x1="698.4" y1="515.5" x2="698.4" y2="520.5" stroke="#4a4a4a" stroke-width="1"/>
<text x="698.4" y="528.8" font-family="Liberation Sans" font-size="7" font-weight="bold" text-anchor="middle" textLength="7.4" lengthAdjust="spacingAndGlyphs" fill="#111" stroke="#111" stroke-width="0.15">TH</text>
<path d="M526.7 414.6V412H533.7V414.6" fill="none" stroke="#111" stroke-width="0.8"/>
<text x="530.2" y="411.4" font-family="Liberation Sans" font-size="8" font-weight="bold" text-anchor="middle" textLength="7.6" lengthAdjust="spacingAndGlyphs" fill="#111">**</text>
<path d="M533.7 486.8V484.2H541.2V486.8" fill="none" stroke="#111" stroke-width="0.8"/>
<text x="537.45" y="481.8" font-family="Liberation Sans" font-size="4.6" font-weight="bold" text-anchor="middle" textLength="2.8" lengthAdjust="spacingAndGlyphs" fill="#222">#</text>
<path d="M554.2 470.6V468H561.7V470.6" fill="none" stroke="#111" stroke-width="0.8"/>
<text x="557.95" y="467.4" font-family="Liberation Sans" font-size="8" font-weight="bold" text-anchor="middle" textLength="7.6" lengthAdjust="spacingAndGlyphs" fill="#111">**</text>
<path d="M561.2 497.6V495H568.2V497.6" fill="none" stroke="#111" stroke-width="0.8"/>
<text x="564.7" y="492.6" font-family="Liberation Sans" font-size="4.6" font-weight="bold" text-anchor="middle" textLength="2.8" lengthAdjust="spacingAndGlyphs" fill="#222">#</text>
<path d="M581.7 471.8V469.2H589.2V471.8" fill="none" stroke="#111" stroke-width="0.8"/>
<text x="585.45" y="468.6" font-family="Liberation Sans" font-size="8" font-weight="bold" text-anchor="middle" textLength="7.6" lengthAdjust="spacingAndGlyphs" fill="#111">**</text>
<path d="M589.2 485.8V483.2H596.2V485.8" fill="none" stroke="#111" stroke-width="0.8"/>
<text x="592.7" y="480.8" font-family="Liberation Sans" font-size="4.6" font-weight="bold" text-anchor="middle" textLength="7.6" lengthAdjust="spacingAndGlyphs" fill="#222"># #</text>
<path d="M608.7 493.3V490.7H616.2V493.3" fill="none" stroke="#111" stroke-width="0.8"/>
<text x="612.45" y="490.1" font-family="Liberation Sans" font-size="8" font-weight="bold" text-anchor="middle" textLength="3.2" lengthAdjust="spacingAndGlyphs" fill="#111">*</text>
<path d="M616.2 502.6V500H623.7V502.6" fill="none" stroke="#111" stroke-width="0.8"/>
<text x="619.95" y="497.6" font-family="Liberation Sans" font-size="4.6" font-weight="bold" text-anchor="middle" textLength="2.8" lengthAdjust="spacingAndGlyphs" fill="#222">#</text>
<path d="M636.7 447.1V444.5H643.7V447.1" fill="none" stroke="#111" stroke-width="0.8"/>
<text x="640.2" y="443.9" font-family="Liberation Sans" font-size="8" font-weight="bold" text-anchor="middle" textLength="7.6" lengthAdjust="spacingAndGlyphs" fill="#111">**</text>
<path d="M643.7 458.8V456.2H651.2V458.8" fill="none" stroke="#111" stroke-width="0.8"/>
<text x="647.45" y="453.8" font-family="Liberation Sans" font-size="4.6" font-weight="bold" text-anchor="middle" textLength="7.6" lengthAdjust="spacingAndGlyphs" fill="#222"># #</text>
<path d="M664.5 411.8V409.2H671.7V411.8" fill="none" stroke="#111" stroke-width="0.8"/>
<text x="668.1" y="408.6" font-family="Liberation Sans" font-size="8" font-weight="bold" text-anchor="middle" textLength="7.6" lengthAdjust="spacingAndGlyphs" fill="#111">**</text>
<path d="M671.2 457.1V454.5H678.7V457.1" fill="none" stroke="#111" stroke-width="0.8"/>
<text x="674.95" y="452.1" font-family="Liberation Sans" font-size="4.6" font-weight="bold" text-anchor="middle" textLength="2.8" lengthAdjust="spacingAndGlyphs" fill="#222">#</text>
<path d="M692 430.6V428H699.2V430.6" fill="none" stroke="#111" stroke-width="0.8"/>
<text x="695.6" y="427.4" font-family="Liberation Sans" font-size="8" font-weight="bold" text-anchor="middle" textLength="7.6" lengthAdjust="spacingAndGlyphs" fill="#111">**</text>
<path d="M698 455.6V453H705.5V455.6" fill="none" stroke="#111" stroke-width="0.8"/>
<text x="701.75" y="450.6" font-family="Liberation Sans" font-size="4.6" font-weight="bold" text-anchor="middle" textLength="2.8" lengthAdjust="spacingAndGlyphs" fill="#222">#</text>
<text x="617.6" y="374" font-family="Liberation Serif" font-size="11.5" font-weight="bold" text-anchor="middle" textLength="40.8" lengthAdjust="spacingAndGlyphs">Histidine</text>
<text transform="translate(489.6 453.05) rotate(-90)" font-family="Liberation Serif" font-weight="bold" font-size="8" stroke="#000" stroke-width="0.15" text-anchor="middle" textLength="58.2" lengthAdjust="spacingAndGlyphs">Relative Intensity</text>
<rect x="720.1" y="0.5" width="16.6" height="6.2" fill="#fff" stroke="#ff8f8f" stroke-width="1.1"/>
<text x="746.4" y="6.5" font-family="Liberation Serif" font-size="9" font-weight="bold" text-anchor="start" textLength="21.2" lengthAdjust="spacingAndGlyphs">Sham</text>
<rect x="720.1" y="17" width="16.6" height="6.2" fill="#fff" stroke="#2fd02f" stroke-width="1.1"/>
<text x="746.4" y="23" font-family="Liberation Serif" font-size="9" font-weight="bold" text-anchor="start" textLength="35.7" lengthAdjust="spacingAndGlyphs">MCAO/R</text>
<rect x="720.1" y="33.2" width="16.6" height="6.2" fill="#fff" stroke="#6464ff" stroke-width="1.1"/>
<text x="746.4" y="39.2" font-family="Liberation Serif" font-size="9" font-weight="bold" text-anchor="start" textLength="55.5" lengthAdjust="spacingAndGlyphs">MCAO/R+AC</text>
<rect x="763" y="411" width="8" height="118" fill="url(#cb)"/>
<text x="774.5" y="435.9" font-family="Liberation Sans" font-size="3.6" font-weight="normal" text-anchor="start" fill="#333">80</text>
<line x1="763" y1="434.5" x2="764.2" y2="434.5" stroke="#222" stroke-width="0.5"/><line x1="769.8" y1="434.5" x2="771" y2="434.5" stroke="#222" stroke-width="0.5"/>
<text x="774.5" y="459.4" font-family="Liberation Sans" font-size="3.6" font-weight="normal" text-anchor="start" fill="#333">60</text>
<line x1="763" y1="458" x2="764.2" y2="458" stroke="#222" stroke-width="0.5"/><line x1="769.8" y1="458" x2="771" y2="458" stroke="#222" stroke-width="0.5"/>
<text x="774.5" y="482.9" font-family="Liberation Sans" font-size="3.6" font-weight="normal" text-anchor="start" fill="#333">40</text>
<line x1="763" y1="481.5" x2="764.2" y2="481.5" stroke="#222" stroke-width="0.5"/><line x1="769.8" y1="481.5" x2="771" y2="481.5" stroke="#222" stroke-width="0.5"/>
<text x="774.5" y="506.4" font-family="Liberation Sans" font-size="3.6" font-weight="normal" text-anchor="start" fill="#333">20</text>
<line x1="763" y1="505" x2="764.2" y2="505" stroke="#222" stroke-width="0.5"/><line x1="769.8" y1="505" x2="771" y2="505" stroke="#222" stroke-width="0.5"/>
</svg></body></html>
